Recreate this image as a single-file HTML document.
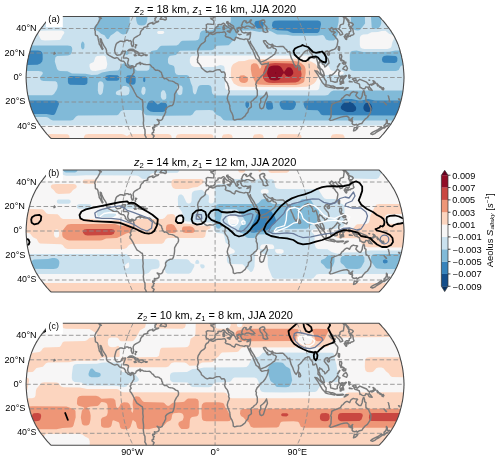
<!DOCTYPE html><html><head><meta charset="utf-8"><style>html,body{margin:0;padding:0;background:#fff;}svg{display:block;}text{font-family:"Liberation Sans", sans-serif;}</style></head><body>
<svg width="500" height="460" viewBox="0 0 500 460">
<defs><clipPath id="cp0"><path d="M51.1,16.5 L215.1,16.5 L379,16.5 L379,16.5 L380.2,17.7 L381.3,18.8 L382.3,20 L383.4,21.2 L384.4,22.4 L385.4,23.6 L386.4,24.9 L387.3,26.1 L388.3,27.3 L389.2,28.5 L390.1,29.7 L390.9,30.9 L391.7,32.2 L392.4,33.4 L393.2,34.6 L393.9,35.8 L394.6,37.1 L395.2,38.3 L395.8,39.5 L396.4,40.7 L397,42 L397.5,43.2 L398,44.4 L398.5,45.6 L398.9,46.9 L399.3,48.1 L399.7,49.3 L400,50.5 L400.3,51.8 L400.6,53 L401,54.2 L401.3,55.4 L401.6,56.7 L401.8,57.9 L402.1,59.1 L402.4,60.3 L402.6,61.6 L402.8,62.8 L403,64 L403.1,65.2 L403.3,66.5 L403.4,67.7 L403.5,68.9 L403.6,70.1 L403.7,71.4 L403.8,72.6 L403.9,73.8 L403.9,75 L404,76.3 L404,77.5 L404,78.7 L403.9,80 L403.9,81.2 L403.8,82.4 L403.7,83.6 L403.6,84.9 L403.5,86.1 L403.4,87.3 L403.3,88.5 L403.1,89.8 L403,91 L402.8,92.2 L402.6,93.4 L402.4,94.7 L402.1,95.9 L401.8,97.1 L401.6,98.3 L401.3,99.6 L401,100.8 L400.6,102 L400.3,103.2 L400,104.5 L399.7,105.7 L399.3,106.9 L398.9,108.1 L398.5,109.4 L398,110.6 L397.5,111.8 L397,113 L396.4,114.3 L395.8,115.5 L395.2,116.7 L394.6,117.9 L393.9,119.2 L393.2,120.4 L392.4,121.6 L391.7,122.8 L390.9,124.1 L390.1,125.3 L389.2,126.5 L388.3,127.7 L387.3,128.9 L386.4,130.1 L385.4,131.4 L384.4,132.6 L383.4,133.8 L382.3,135 L381.3,136.2 L380.2,137.3 L379,138.5 L379,138.5 L215.1,138.5 L51.1,138.5 L51.1,138.5 L49.9,137.3 L48.8,136.2 L47.8,135 L46.7,133.8 L45.7,132.6 L44.7,131.4 L43.7,130.1 L42.8,128.9 L41.8,127.7 L40.9,126.5 L40,125.3 L39.2,124.1 L38.4,122.8 L37.7,121.6 L36.9,120.4 L36.2,119.2 L35.5,117.9 L34.9,116.7 L34.3,115.5 L33.7,114.3 L33.1,113 L32.6,111.8 L32.1,110.6 L31.6,109.4 L31.2,108.1 L30.8,106.9 L30.4,105.7 L30.1,104.5 L29.8,103.2 L29.5,102 L29.1,100.8 L28.8,99.6 L28.5,98.3 L28.3,97.1 L28,95.9 L27.7,94.7 L27.5,93.4 L27.3,92.2 L27.1,91 L27,89.8 L26.8,88.5 L26.7,87.3 L26.6,86.1 L26.5,84.9 L26.4,83.6 L26.3,82.4 L26.2,81.2 L26.2,80 L26.1,78.7 L26.1,77.5 L26.1,76.3 L26.2,75 L26.2,73.8 L26.3,72.6 L26.4,71.4 L26.5,70.1 L26.6,68.9 L26.7,67.7 L26.8,66.5 L27,65.2 L27.1,64 L27.3,62.8 L27.5,61.6 L27.7,60.3 L28,59.1 L28.3,57.9 L28.5,56.7 L28.8,55.4 L29.1,54.2 L29.5,53 L29.8,51.8 L30.1,50.5 L30.4,49.3 L30.8,48.1 L31.2,46.9 L31.6,45.6 L32.1,44.4 L32.6,43.2 L33.1,42 L33.7,40.7 L34.3,39.5 L34.9,38.3 L35.5,37.1 L36.2,35.8 L36.9,34.6 L37.7,33.4 L38.4,32.2 L39.2,30.9 L40,29.7 L40.9,28.5 L41.8,27.3 L42.8,26.1 L43.7,24.9 L44.7,23.6 L45.7,22.4 L46.7,21.2 L47.8,20 L48.8,18.8 L49.9,17.7 L51.1,16.5Z"/></clipPath><clipPath id="cp1"><path d="M51.1,170 L215.1,170 L379,170 L379,170 L380.2,171.2 L381.3,172.3 L382.3,173.5 L383.4,174.7 L384.4,175.9 L385.4,177.1 L386.4,178.4 L387.3,179.6 L388.3,180.8 L389.2,182 L390.1,183.2 L390.9,184.4 L391.7,185.7 L392.4,186.9 L393.2,188.1 L393.9,189.3 L394.6,190.6 L395.2,191.8 L395.8,193 L396.4,194.2 L397,195.5 L397.5,196.7 L398,197.9 L398.5,199.1 L398.9,200.4 L399.3,201.6 L399.7,202.8 L400,204 L400.3,205.3 L400.6,206.5 L401,207.7 L401.3,208.9 L401.6,210.2 L401.8,211.4 L402.1,212.6 L402.4,213.8 L402.6,215.1 L402.8,216.3 L403,217.5 L403.1,218.7 L403.3,220 L403.4,221.2 L403.5,222.4 L403.6,223.6 L403.7,224.9 L403.8,226.1 L403.9,227.3 L403.9,228.5 L404,229.8 L404,231 L404,232.2 L403.9,233.5 L403.9,234.7 L403.8,235.9 L403.7,237.1 L403.6,238.4 L403.5,239.6 L403.4,240.8 L403.3,242 L403.1,243.3 L403,244.5 L402.8,245.7 L402.6,246.9 L402.4,248.2 L402.1,249.4 L401.8,250.6 L401.6,251.8 L401.3,253.1 L401,254.3 L400.6,255.5 L400.3,256.7 L400,258 L399.7,259.2 L399.3,260.4 L398.9,261.6 L398.5,262.9 L398,264.1 L397.5,265.3 L397,266.5 L396.4,267.8 L395.8,269 L395.2,270.2 L394.6,271.4 L393.9,272.7 L393.2,273.9 L392.4,275.1 L391.7,276.3 L390.9,277.6 L390.1,278.8 L389.2,280 L388.3,281.2 L387.3,282.4 L386.4,283.6 L385.4,284.9 L384.4,286.1 L383.4,287.3 L382.3,288.5 L381.3,289.7 L380.2,290.8 L379,292 L379,292 L215.1,292 L51.1,292 L51.1,292 L49.9,290.8 L48.8,289.7 L47.8,288.5 L46.7,287.3 L45.7,286.1 L44.7,284.9 L43.7,283.6 L42.8,282.4 L41.8,281.2 L40.9,280 L40,278.8 L39.2,277.6 L38.4,276.3 L37.7,275.1 L36.9,273.9 L36.2,272.7 L35.5,271.4 L34.9,270.2 L34.3,269 L33.7,267.8 L33.1,266.5 L32.6,265.3 L32.1,264.1 L31.6,262.9 L31.2,261.6 L30.8,260.4 L30.4,259.2 L30.1,258 L29.8,256.7 L29.5,255.5 L29.1,254.3 L28.8,253.1 L28.5,251.8 L28.3,250.6 L28,249.4 L27.7,248.2 L27.5,246.9 L27.3,245.7 L27.1,244.5 L27,243.3 L26.8,242 L26.7,240.8 L26.6,239.6 L26.5,238.4 L26.4,237.1 L26.3,235.9 L26.2,234.7 L26.2,233.5 L26.1,232.2 L26.1,231 L26.1,229.8 L26.2,228.5 L26.2,227.3 L26.3,226.1 L26.4,224.9 L26.5,223.6 L26.6,222.4 L26.7,221.2 L26.8,220 L27,218.7 L27.1,217.5 L27.3,216.3 L27.5,215.1 L27.7,213.8 L28,212.6 L28.3,211.4 L28.5,210.2 L28.8,208.9 L29.1,207.7 L29.5,206.5 L29.8,205.3 L30.1,204 L30.4,202.8 L30.8,201.6 L31.2,200.4 L31.6,199.1 L32.1,197.9 L32.6,196.7 L33.1,195.5 L33.7,194.2 L34.3,193 L34.9,191.8 L35.5,190.6 L36.2,189.3 L36.9,188.1 L37.7,186.9 L38.4,185.7 L39.2,184.4 L40,183.2 L40.9,182 L41.8,180.8 L42.8,179.6 L43.7,178.4 L44.7,177.1 L45.7,175.9 L46.7,174.7 L47.8,173.5 L48.8,172.3 L49.9,171.2 L51.1,170Z"/></clipPath><clipPath id="cp2"><path d="M51.1,323.3 L215.1,323.3 L379,323.3 L379,323.3 L380.2,324.5 L381.3,325.6 L382.3,326.8 L383.4,328 L384.4,329.2 L385.4,330.4 L386.4,331.7 L387.3,332.9 L388.3,334.1 L389.2,335.3 L390.1,336.5 L390.9,337.7 L391.7,339 L392.4,340.2 L393.2,341.4 L393.9,342.6 L394.6,343.9 L395.2,345.1 L395.8,346.3 L396.4,347.5 L397,348.8 L397.5,350 L398,351.2 L398.5,352.4 L398.9,353.7 L399.3,354.9 L399.7,356.1 L400,357.3 L400.3,358.6 L400.6,359.8 L401,361 L401.3,362.2 L401.6,363.5 L401.8,364.7 L402.1,365.9 L402.4,367.1 L402.6,368.4 L402.8,369.6 L403,370.8 L403.1,372 L403.3,373.3 L403.4,374.5 L403.5,375.7 L403.6,376.9 L403.7,378.2 L403.8,379.4 L403.9,380.6 L403.9,381.8 L404,383.1 L404,384.3 L404,385.5 L403.9,386.8 L403.9,388 L403.8,389.2 L403.7,390.4 L403.6,391.7 L403.5,392.9 L403.4,394.1 L403.3,395.3 L403.1,396.6 L403,397.8 L402.8,399 L402.6,400.2 L402.4,401.5 L402.1,402.7 L401.8,403.9 L401.6,405.1 L401.3,406.4 L401,407.6 L400.6,408.8 L400.3,410 L400,411.3 L399.7,412.5 L399.3,413.7 L398.9,414.9 L398.5,416.2 L398,417.4 L397.5,418.6 L397,419.8 L396.4,421.1 L395.8,422.3 L395.2,423.5 L394.6,424.7 L393.9,426 L393.2,427.2 L392.4,428.4 L391.7,429.6 L390.9,430.9 L390.1,432.1 L389.2,433.3 L388.3,434.5 L387.3,435.7 L386.4,436.9 L385.4,438.2 L384.4,439.4 L383.4,440.6 L382.3,441.8 L381.3,443 L380.2,444.1 L379,445.3 L379,445.3 L215.1,445.3 L51.1,445.3 L51.1,445.3 L49.9,444.1 L48.8,443 L47.8,441.8 L46.7,440.6 L45.7,439.4 L44.7,438.2 L43.7,436.9 L42.8,435.7 L41.8,434.5 L40.9,433.3 L40,432.1 L39.2,430.9 L38.4,429.6 L37.7,428.4 L36.9,427.2 L36.2,426 L35.5,424.7 L34.9,423.5 L34.3,422.3 L33.7,421.1 L33.1,419.8 L32.6,418.6 L32.1,417.4 L31.6,416.2 L31.2,414.9 L30.8,413.7 L30.4,412.5 L30.1,411.3 L29.8,410 L29.5,408.8 L29.1,407.6 L28.8,406.4 L28.5,405.1 L28.3,403.9 L28,402.7 L27.7,401.5 L27.5,400.2 L27.3,399 L27.1,397.8 L27,396.6 L26.8,395.3 L26.7,394.1 L26.6,392.9 L26.5,391.7 L26.4,390.4 L26.3,389.2 L26.2,388 L26.2,386.8 L26.1,385.5 L26.1,384.3 L26.1,383.1 L26.2,381.8 L26.2,380.6 L26.3,379.4 L26.4,378.2 L26.5,376.9 L26.6,375.7 L26.7,374.5 L26.8,373.3 L27,372 L27.1,370.8 L27.3,369.6 L27.5,368.4 L27.7,367.1 L28,365.9 L28.3,364.7 L28.5,363.5 L28.8,362.2 L29.1,361 L29.5,359.8 L29.8,358.6 L30.1,357.3 L30.4,356.1 L30.8,354.9 L31.2,353.7 L31.6,352.4 L32.1,351.2 L32.6,350 L33.1,348.8 L33.7,347.5 L34.3,346.3 L34.9,345.1 L35.5,343.9 L36.2,342.6 L36.9,341.4 L37.7,340.2 L38.4,339 L39.2,337.7 L40,336.5 L40.9,335.3 L41.8,334.1 L42.8,332.9 L43.7,331.7 L44.7,330.4 L45.7,329.2 L46.7,328 L47.8,326.8 L48.8,325.6 L49.9,324.5 L51.1,323.3Z"/></clipPath></defs>
<rect width="500" height="460" fill="#fff"/>
<g clip-path="url(#cp0)"><path d="M51.1,16.5 L215.1,16.5 L379,16.5 L379,16.5 L380.2,17.7 L381.3,18.8 L382.3,20 L383.4,21.2 L384.4,22.4 L385.4,23.6 L386.4,24.9 L387.3,26.1 L388.3,27.3 L389.2,28.5 L390.1,29.7 L390.9,30.9 L391.7,32.2 L392.4,33.4 L393.2,34.6 L393.9,35.8 L394.6,37.1 L395.2,38.3 L395.8,39.5 L396.4,40.7 L397,42 L397.5,43.2 L398,44.4 L398.5,45.6 L398.9,46.9 L399.3,48.1 L399.7,49.3 L400,50.5 L400.3,51.8 L400.6,53 L401,54.2 L401.3,55.4 L401.6,56.7 L401.8,57.9 L402.1,59.1 L402.4,60.3 L402.6,61.6 L402.8,62.8 L403,64 L403.1,65.2 L403.3,66.5 L403.4,67.7 L403.5,68.9 L403.6,70.1 L403.7,71.4 L403.8,72.6 L403.9,73.8 L403.9,75 L404,76.3 L404,77.5 L404,78.7 L403.9,80 L403.9,81.2 L403.8,82.4 L403.7,83.6 L403.6,84.9 L403.5,86.1 L403.4,87.3 L403.3,88.5 L403.1,89.8 L403,91 L402.8,92.2 L402.6,93.4 L402.4,94.7 L402.1,95.9 L401.8,97.1 L401.6,98.3 L401.3,99.6 L401,100.8 L400.6,102 L400.3,103.2 L400,104.5 L399.7,105.7 L399.3,106.9 L398.9,108.1 L398.5,109.4 L398,110.6 L397.5,111.8 L397,113 L396.4,114.3 L395.8,115.5 L395.2,116.7 L394.6,117.9 L393.9,119.2 L393.2,120.4 L392.4,121.6 L391.7,122.8 L390.9,124.1 L390.1,125.3 L389.2,126.5 L388.3,127.7 L387.3,128.9 L386.4,130.1 L385.4,131.4 L384.4,132.6 L383.4,133.8 L382.3,135 L381.3,136.2 L380.2,137.3 L379,138.5 L379,138.5 L215.1,138.5 L51.1,138.5 L51.1,138.5 L49.9,137.3 L48.8,136.2 L47.8,135 L46.7,133.8 L45.7,132.6 L44.7,131.4 L43.7,130.1 L42.8,128.9 L41.8,127.7 L40.9,126.5 L40,125.3 L39.2,124.1 L38.4,122.8 L37.7,121.6 L36.9,120.4 L36.2,119.2 L35.5,117.9 L34.9,116.7 L34.3,115.5 L33.7,114.3 L33.1,113 L32.6,111.8 L32.1,110.6 L31.6,109.4 L31.2,108.1 L30.8,106.9 L30.4,105.7 L30.1,104.5 L29.8,103.2 L29.5,102 L29.1,100.8 L28.8,99.6 L28.5,98.3 L28.3,97.1 L28,95.9 L27.7,94.7 L27.5,93.4 L27.3,92.2 L27.1,91 L27,89.8 L26.8,88.5 L26.7,87.3 L26.6,86.1 L26.5,84.9 L26.4,83.6 L26.3,82.4 L26.2,81.2 L26.2,80 L26.1,78.7 L26.1,77.5 L26.1,76.3 L26.2,75 L26.2,73.8 L26.3,72.6 L26.4,71.4 L26.5,70.1 L26.6,68.9 L26.7,67.7 L26.8,66.5 L27,65.2 L27.1,64 L27.3,62.8 L27.5,61.6 L27.7,60.3 L28,59.1 L28.3,57.9 L28.5,56.7 L28.8,55.4 L29.1,54.2 L29.5,53 L29.8,51.8 L30.1,50.5 L30.4,49.3 L30.8,48.1 L31.2,46.9 L31.6,45.6 L32.1,44.4 L32.6,43.2 L33.1,42 L33.7,40.7 L34.3,39.5 L34.9,38.3 L35.5,37.1 L36.2,35.8 L36.9,34.6 L37.7,33.4 L38.4,32.2 L39.2,30.9 L40,29.7 L40.9,28.5 L41.8,27.3 L42.8,26.1 L43.7,24.9 L44.7,23.6 L45.7,22.4 L46.7,21.2 L47.8,20 L48.8,18.8 L49.9,17.7 L51.1,16.5Z" fill="#f7f6f6"/><path d="M20.0 14.0l390 0l0 111.6l-390 -.1zM47.0 30.5l-7 .2l-2 1.3l.2 2l2.1 4.5l1.2 1.4l3.5 .5l14.5 -.3l1.4 -1.1l1.4 -3l2.1 -3l-.4 -1.6l-2 -.8zM97.0 55.9l-1.5 1.2l-1.8 4.9l-3.3 1.5l-.9 .9l0 2.1l.9 3l1.6 1.2l3.5 .2l10 -1.9l1.1 -1.5l.7 -3.5l-1.4 -7l-.9 -.9l-1.5 -.5zM158.5 30.9l-1 .6l-.4 1l.5 1l.9 .5l4 .1l1.8 -1.1l-.3 -1.5l-1 -.6zM222.0 55.5l-29.5 .3l-1.5 .7l-.7 1l-.5 2l.1 3l1.6 3l1.5 1l2 .4l19 .1l6.5 -1.9l3 .7l.9 1.2l.3 2l.3 18.5l1 2l2 .8l88.5 0l1.5 -.4l1.2 -1.4l1 -6l2 -5.5l1.3 -1.5l2.5 -.5l15.5 -.2l1.5 -.5l.8 -1.3l-.4 -1l-1.4 -.7l-8.5 -.3l-2 -.4l-1.2 -1.1l-1.8 -3.7l-1.5 -.6l-5.5 -.7l-1 -1l-2 -3.7l-4 -1.3l-3 -2.2l-2 -.7zM381.5 30.9l-3.5 1l-6.5 .3l-4 2l-4.5 .4l-2 .8l-1 1.6l-.2 2l0 6l.7 2.5l1.5 1.1l2.5 .3l23 0l3 -.9l1 -1.5l.9 -4.5l1.8 -3.5l-.2 -2.5l-1 -1l-4 -1.2l-3.5 -3z" fill="#cae1ee" fill-rule="evenodd"/><path d="M98.8 14.0l31 0l-.2 13l-.5 2.5l-1.4 3l-1.7 1.6l-3 .3l-2 -.6l-3 -2.6l-1.5 0l-3 2.6l-2.8 1.7l-2.2 3.6l-1.5 0l-2.5 -3.8l-3.5 -1.5l-3 -2.8l-3 -1l-1.3 -1.5l.6 -2l3.2 -1.9l.9 -1.6zM135.8 14.0l11.9 0l-.5 6.5l-.7 2.5l-1 1.6l-1.5 .7l-2.5 .2l-2 -.2l-1.6 -.8l-.9 -1.5l-.7 -2.5zM230.8 14.0l108 0l-.2 8l-1.3 6l.7 5.5l-2.5 6l-2 .9l-4.5 .1l-3 -1l-2 -3.7l-1.5 -.9l-6 .9l-24 0l-6 -1.1l-9.5 -.2l-5.5 -3l-3 -.9l-9 1.5l-7.5 -1.5l-11.5 0l-2 .5l-1 1l-1 5.4l-1 2l-3.5 1.9l-2 2.7l-1.5 1.1l-11.5 .6l-1.5 1.1l-2 2.7l-2 .7l-31.5 .5l-1.1 .7l-2.9 3.4l-5.5 .8l-1.5 .8l-1.1 2.5l.2 4l1.3 1.5l3.6 1l1 .8l.6 1.7l.4 4.6l1.4 1.9l2.1 .5l8 .1l1.5 .4l1 .8l1.9 6.7l1.5 3.5l.6 5.7l1 1.9l1 .3l1.1 -.9l1.8 -6l.8 -1.5l1.3 -.7l2.5 -.3l6 .1l2 .7l1 1.7l.4 4.5l.7 2l1.4 1.1l2.5 .4l108.5 -.1l3 -.5l3 -3.5l2.5 -.8l76.5 -.1l0 30l-184 -.1l-2.5 -.5l-3 -3.5l-4.5 -1.8l-3 -4.1l-3.5 -.5l-13.5 .3l-1.5 1.1l-2 3.1l-2 .9l-30 .3l-14 -.4l-1.6 -.8l-2.4 -3.6l-2 -.8l-17 0l-2.5 .8l-2.5 3.6l-1.5 .8l-39 .3l-2 .8l-3 3.5l-2.5 .5l-17.5 0l-2 -.6l-3 -2.2l-2 -.5l-26 0l0 -21.7l32 -.2l2 -1.1l2.6 -4.1l.8 -2l.3 -2.5l-.6 -3l-1.6 -1.2l-12 -.3l-2.5 -.8l-.8 -1.2l0 -2l2.4 -3l.2 -1l-.4 -1l-.9 -.6l-3 -.4l-18.5 0l0 -25.6l47.5 .1l3.3 .5l1.2 1.4l.3 2.1l-.6 3l-1.2 2.1l-2.5 .8l-11 .5l-1.7 1.6l-.5 4l2.2 7.2l1 1.5l2 .7l7.5 .3l4.5 2.3l13.5 .3l6 1.2l6 -.2l4.5 -2.3l7.5 -1.4l8.5 -.6l1.2 -1l2.6 -5l1.2 -.9l1.5 -.4l8.6 2.3l1 1l1.4 3.2l1.5 1l10 .1l1.7 -.8l.8 -1.5l.3 -14l.5 -2l1.2 -1.4l5.5 -1.2l2.9 -3.4l1.6 -.8l15 -.3l2 -.8l2.4 -3.1l1.6 -.8l13 -.2l2.3 -.5l1.4 -1.5l.9 -5.5l1.6 -2l1.8 -.4l8.5 -.3l1.5 -.7l2 -2.7l1.5 -1.1l10 -.4l2.5 -.9l1.2 -3zM179.0 85.3l-1.2 .7l-.7 1l-.3 4.5l1.2 3l2 .7l1.5 -.7l.7 -1l.5 -5l-.3 -1.5l-.9 -1.2zM100.0 81.3l-1.2 .7l-.8 1.5l-.2 7l.7 3.3l1 .9l1 .2l1.4 -.9l.8 -1.5l1 -7l-.3 -2l-.9 -1.5l-1 -.6zM123.0 85.9l-2.5 3.7l-3.5 1.4l-1 .9l-.2 1.6l.7 1.2l2 .6l7 .2l2 -.4l1.4 -1.1l.8 -3.5l-.6 -3l-3.1 -1.6zM143.0 86.8l-1.1 1.2l-.7 4l.8 2.3l1.5 .6l1.6 -1.4l.6 -4l-.7 -2.2l-1 -.5zM162.5 90.2l-1.6 2.3l-.1 4.5l1.2 2.2l1 .6l1.5 0l1.3 -.8l.5 -1l0 -3.5l-1.4 -3.5l-.9 -.8zM350.8 14.0l14 0l.3 9.5l-5.1 6.4l-2 .5l-2.5 -.1l-1.5 -.7l-.9 -1.1l-2.1 -5.5zM370.8 14.0l10 0l.5 9.5l-1.2 3l-2.1 1.9l-4 .4l-1.5 -.5l-.8 -.8zM81.9 42.0l.6 -.4l1 .3l1 2.1l-.1 3.5l-.4 1l-1 .9l-1.1 -.4l-.9 -2l0 -3zM395.3 50.5l14.7 0l0 14.5l-6.5 0l-2 .5l-1.1 1l-1.7 3.5l-2.7 1l-42 0l-2.5 -.5l-1.4 -1.5l-.3 -3l0 -11.5l.7 -2.4l1.5 -1.2l4.5 -.3l6.5 1.5l15 0l11.5 -.3zM126.3 51.0l1.7 .4l.7 1.1l-.2 1.6l-1.5 .9l-1.5 -.4l-.7 -1.1l.2 -1.6z" fill="#81bad8" fill-rule="evenodd"/><path d="M279.0 20.5l39 .1l2.4 .9l.7 2.5l-1.6 7l-.6 1l-1.4 .9l-24.5 .2l-2 -.5l-3.5 -1.9l-10 -.5l-2.5 -.8l-2 -1.2l-1.1 -2.7l.7 -3.5l1.9 -1.3zM255.8 21.0l4.2 -.4l2.5 .9l.9 1.5l.2 2l-.1 1.5l-1 1.5l-1.5 .7l-2 .1l-1.5 -.4l-1.3 -.9l-1.3 -2l-.5 -2l.4 -1.5zM20.0 51.0l0 -.4l.5 0l17.5 0l2.7 .4l1.3 1.2l.6 1.8l.1 5l-.5 2.5l-1.8 2l-2.9 1.3l-17.5 .2zM383.9 56.0l3.1 -.4l8.5 .3l1 .6l.9 1.5l-.1 3l-.8 1.2l-2 .7l-10.5 -.2l-1.6 -1.2l-.5 -2l.6 -2.3zM106.6 75.5l2.9 -.4l8 .2l1.6 1.2l.2 2.5l-.8 1.2l-1.5 .6l-9.5 0l-1.5 -.8l-.8 -1.5l.2 -2zM127.4 75.5l5.1 -.4l1.5 .4l1 .8l.6 1.7l.1 3l-.3 2l-.9 1.2l-1.5 .6l-1.5 -.2l-3.7 -1.1l-1.4 -1l-.5 -1.5l0 -3l.5 -1.5zM68.8 76.5l1.7 -.4l15 .4l1.5 .9l.5 1.1l-.1 4.5l-.9 1.2l-2 .7l-14.5 -.2l-1.5 -1l-.6 -1.7l0 -4zM143.9 77.0l1.1 .4l.3 1.1l0 2.5l-.8 1.2l-1 -.4l-.4 -1.3l.2 -2.5zM345.1 99.0l6.4 0l7 1.5l3 -.1l6.5 -1.4l7 1.5l35 0l0 14.9l-87 -.1l-2 -.8l-2 -3.1l-1.5 -1.1l-9 -.3l-2 -.5l-1.8 -2l-1.2 -3.5l.5 -2.3l2 -1l32.5 -.2zM20.0 101.0l0 -.4l36 0l2.4 .9l.6 2.5l-3.5 9l-1 1.5l-1 .6l-1.5 0l-5.5 -1.2l-26.5 0zM149.6 101.0l2.4 -.4l1.9 .4l3.6 3.5l1 -.2l2.5 -1.8l4.7 .5l1 1l.5 1.5l.1 2l-.5 2l-1.3 1.6l-2.5 1l-9.5 0l-3.1 -.6l-2.9 -2l-1 -2l1.4 -4.5zM267.8 101.0l2.9 0l1.8 2l.7 4.5l-.7 1.5l-1 .6l-3.5 .1l-1.8 -1.7l-.2 -4.5l.6 -1.5zM280.9 101.0l3.1 -.4l10 .2l1.7 1.2l.3 2.5l-1.5 3.5l-1.5 1.5l-2.5 .5l-7 -.2l-2.2 -1.3l-1.6 -3.5l-.1 -2.5zM246.3 101.5l1.7 -.1l1.1 1.6l-.1 3l-1.5 2.2l-1.3 -.7l-.8 -2l0 -2.5z" fill="#3783bb" fill-rule="evenodd"/><path d="M344.6 102.5l5.4 -.4l3 1.1l3 3.8l.2 2l-.7 1.8l-2.5 1.2l-5.5 .1l-2.1 -.6l-3.7 -2l-1 -1.5l.2 -1.5l1.7 -2.5zM366.8 102.5l1.7 -.1l1.2 .6l1.4 1.5l.9 1.9l.3 2.1l-.3 1.5l-.6 1l-1.4 .8l-2 .3l-2 -.4l-1.5 -1l-1 -1.7l-.1 -2l.7 -2l1.1 -1.5z" fill="#144e8a" fill-rule="evenodd"/><path d="M261.5 59.0l36.5 -.2l3 .5l4 1.5l6 .6l4.5 2.6l2.5 3.2l.7 3.8l-.5 5.5l-2.1 4.5l-2.1 2.6l-4.5 2.4l-3 .7l-12 .5l-53 -.4l-3.5 -.8l-4.2 -2.5l-2.4 -4.5l-.6 -4l.3 -7l.9 -2.3l1.3 -1.7l5.2 -2.7l6 -.4l4.5 -1.5zM47.4 134.5l3.6 -.5l16.5 .3l1.2 .7l.7 1l.3 5l-23.9 0l.2 -4.5zM85.4 134.5l3.1 -.5l33 0l2.5 .4l3 1.6l2.3 -1.5l2.2 -.5l36.5 0l2 .5l1.2 1l.5 2l.1 3.5l-88 0l.2 -4.5zM177.4 134.5l3.6 -.5l30 .2l1.5 .6l.9 1.2l.3 5l-38 0l.2 -4.5zM223.4 134.5l5.1 -.5l3 .8l1 1.7l.2 4.5l-10.9 0l.2 -4.5zM254.4 134.5l5.1 -.5l3 .8l1 1.7l.2 4.5l-10.9 0l.2 -4.5zM278.4 134.5l3.6 -.5l17.5 .3l1.2 .7l.7 1l.3 5l-24.9 0l.2 -4.5zM332.4 134.5l4.1 -.5l6.5 .5l1.5 2l.2 4.5l-13.9 0l.2 -4.5z" fill="#fcd5bf" fill-rule="evenodd"/><path d="M272.4 61.0l21.6 .1l4 .5l3 1.4l3.5 3l1.1 3l.1 4l-1.5 8.5l-1.2 1.2l-3.5 1.6l-3.5 .7l-27.5 0l-10 -.5l-2 -.6l-.9 -.9l-3.7 -7.5l-1.1 -6l.1 -3.5l.5 -1.5l2.1 -1.3l3 .4l1.5 1.4l1.5 3.5l.5 .3l1 -1.2l.9 -4.1l1.1 -1.4l2 -.6zM240.5 75.5l3.5 -.2l3 1.7l1.3 2l-.8 2.6l-1.3 .9l-1.7 .4l-2.5 -.2l-1.6 -.7l-1.1 -1.5l-.4 -2l.5 -2z" fill="#ee9677" fill-rule="evenodd"/><path d="M270.1 63.5l4.9 -.5l16 .4l4.2 1.1l3.8 2.5l1.7 2.5l.9 4.5l-.7 5l-2.4 2.5l-3 1l-22.5 .5l-4 -.3l-2.5 -.7l-2 -1.5l-1.2 -2l-.5 -2.5l.2 -3l2.3 -6.5l1.7 -1.6z" fill="#c94741" fill-rule="evenodd"/><path d="M273.8 65.5l4.2 .1l2 .6l1.4 1.3l2.6 4.4l3 -4.1l1.5 -.5l2 .3l1.2 .9l1.2 2l.4 2l-.2 1.5l-2.1 2.3l-2.5 .5l-2.2 -.8l-2.3 -2.8l-1 .8l-3 5l-1.3 1l-3.7 .5l-4.2 -.5l-1.3 -1l-1.7 -3l-.7 -2.5l.2 -2l.9 -3l1 -1.5l1.8 -1.1z" fill="#900d26" fill-rule="evenodd"/><path d="M275.3 72.5l.9 0l-.2 1.1l-.7 -.1z" fill="#67001f" fill-rule="evenodd"/><path d="M40.9,126.5 L389.2,126.5 M29.5,102 L400.6,102 M26.1,77.5 L404,77.5 M29.5,53 L400.6,53 M40.9,28.5 L389.2,28.5 M133.1,16.5 L131.7,19.4 L130.4,22.4 L129.1,25.5 L128,28.5 L126.9,31.5 L126,34.6 L125.1,37.7 L124.4,40.7 L123.7,43.8 L123.1,46.9 L122.7,49.9 L122.3,53 L121.9,56.1 L121.5,59.1 L121.2,62.2 L121,65.2 L120.8,68.3 L120.7,71.4 L120.6,74.4 L120.6,77.5 L120.6,80.6 L120.7,83.6 L120.8,86.7 L121,89.8 L121.2,92.8 L121.5,95.9 L121.9,98.9 L122.3,102 L122.7,105.1 L123.1,108.1 L123.7,111.2 L124.4,114.3 L125.1,117.3 L126,120.4 L126.9,123.5 L128,126.5 L129.1,129.5 L130.4,132.6 L131.7,135.6 L133.1,138.5 M215.1,16.5 L215.1,19.4 L215.1,22.4 L215.1,25.5 L215.1,28.5 L215.1,31.5 L215.1,34.6 L215.1,37.7 L215.1,40.7 L215.1,43.8 L215.1,46.9 L215.1,49.9 L215.1,53 L215.1,56.1 L215.1,59.1 L215.1,62.2 L215.1,65.2 L215.1,68.3 L215.1,71.4 L215.1,74.4 L215.1,77.5 L215.1,80.6 L215.1,83.6 L215.1,86.7 L215.1,89.8 L215.1,92.8 L215.1,95.9 L215.1,98.9 L215.1,102 L215.1,105.1 L215.1,108.1 L215.1,111.2 L215.1,114.3 L215.1,117.3 L215.1,120.4 L215.1,123.5 L215.1,126.5 L215.1,129.5 L215.1,132.6 L215.1,135.6 L215.1,138.5 M297,16.5 L298.4,19.4 L299.7,22.4 L301,25.5 L302.1,28.5 L303.2,31.5 L304.1,34.6 L305,37.7 L305.7,40.7 L306.4,43.8 L307,46.9 L307.4,49.9 L307.8,53 L308.2,56.1 L308.6,59.1 L308.9,62.2 L309.1,65.2 L309.3,68.3 L309.4,71.4 L309.5,74.4 L309.5,77.5 L309.5,80.6 L309.4,83.6 L309.3,86.7 L309.1,89.8 L308.9,92.8 L308.6,95.9 L308.2,98.9 L307.8,102 L307.4,105.1 L307,108.1 L306.4,111.2 L305.7,114.3 L305,117.3 L304.1,120.4 L303.2,123.5 L302.1,126.5 L301,129.5 L299.7,132.6 L298.4,135.6 L297,138.5" fill="none" stroke="#8c8c8c" stroke-opacity="0.85" stroke-width="1" stroke-dasharray="4.6,2.4"/><path d="M373.0,80.7 L374.5,81.5 L375.7,83.1 L375.2,83.4 L373.9,81.9 L373.0,80.7 M377.1,83.6 L378.4,85.1 L377.9,86.0 L377.0,84.7 L377.1,83.6 M379.0,85.7 L379.9,86.4 L382.2,87.9 L381.9,88.3 L379.6,87.1 L379.0,85.7 M382.1,88.8 L383.3,89.4 L383.2,89.9 L382.0,89.3 L382.1,88.8 M383.3,87.8 L383.9,88.9 L383.6,89.1 L383.0,88.3 L383.3,87.8 M388.2,95.9 L388.7,96.6 L388.7,97.8 L389.3,99.2 L389.2,100.5 L389.6,101.4 M368.9,80.0 L369.7,80.1 L369.3,80.3 L368.9,80.0 M97.4,14.1 L98.8,15.9 L99.9,17.7 L100.2,18.4 L99.6,20.2 L97.7,23.6 L96.1,25.8 L95.1,28.0 L94.7,29.7 L95.3,31.2 L95.2,32.6 L95.5,35.1 L97.3,35.8 L98.0,37.4 L98.2,38.9 L98.5,40.4 L99.1,42.6 L99.2,44.0 L100.4,45.6 L101.2,47.5 L102.3,49.4 L103.0,48.7 L102.2,47.7 L101.7,45.6 L101.1,43.4 L100.6,41.6 L100.1,38.7 L101.2,39.1 L101.8,41.3 L102.7,43.4 L103.7,45.4 L104.7,46.9 L105.9,48.7 L106.6,50.8 L106.4,52.4 L107.3,54.1 L109.0,55.4 L110.9,56.4 L112.9,57.5 L114.9,58.3 L116.8,57.6 L118.0,58.1 L119.2,59.7 L120.3,60.5 L121.9,61.0 L123.6,61.3 L124.1,61.7 L124.8,62.7 L125.6,63.9 L125.4,65.0 L125.9,65.4 L126.5,65.6 L127.6,67.1 L128.6,67.5 L129.8,67.9 L130.9,68.6 L131.1,67.8 L131.8,66.7 L133.0,67.3 L133.4,68.3 L133.9,69.3 L133.9,70.8 L134.0,72.6 L132.7,74.4 L132.1,75.7 L131.1,76.5 L131.0,78.4 L130.1,79.3 L130.8,80.7 L131.2,81.5 L129.9,83.0 L130.1,84.7 L131.5,86.3 L133.0,88.9 L134.5,92.0 L135.6,94.0 L136.9,96.3 L139.4,98.0 L141.2,99.3 L142.4,100.0 L142.9,103.6 L142.8,106.4 L143.2,109.9 L142.9,112.8 L143.2,115.5 L143.5,117.9 L143.6,120.8 L143.3,123.1 L143.6,125.3 L144.2,128.3 L144.9,129.3 L145.0,131.4 L145.1,133.5 L144.8,135.0 L146.0,137.1 L146.4,139.1 L148.0,141.5 M131.8,65.7 L133.0,66.0 L134.2,67.0 L134.9,66.7 L135.9,65.9 L136.2,64.5 L137.6,63.7 L138.9,63.2 L140.0,62.3 L140.7,63.0 L140.0,63.7 L140.3,64.6 L140.9,63.9 L142.0,63.3 L143.7,64.3 L145.9,64.5 L147.9,64.6 L149.6,64.5 L150.4,65.0 L151.3,66.1 L152.1,67.1 L153.3,67.7 L154.3,69.2 L155.8,70.3 L157.4,70.1 L159.0,70.6 L160.5,71.9 L161.4,72.4 L161.9,74.7 L162.6,75.4 L162.3,76.9 L163.6,77.7 L164.4,78.8 L165.7,78.4 L167.5,79.3 L168.6,80.6 L170.5,80.9 L172.2,81.1 L173.9,81.8 L175.7,83.3 L177.8,83.9 L178.5,85.8 L178.5,87.5 L177.9,89.1 L176.6,90.6 L175.4,92.8 L174.6,94.4 L174.6,97.1 L174.4,99.3 L174.0,101.5 L173.2,104.2 L172.1,105.6 L170.4,105.7 L168.7,106.5 L167.0,107.5 L165.5,109.5 L165.7,112.2 L165.0,113.5 L164.2,115.5 L163.2,116.7 L162.7,118.6 L162.0,119.7 L160.7,120.4 L159.4,120.3 L157.9,119.8 L157.1,119.5 L158.5,121.0 L159.2,122.1 L158.9,123.9 L157.6,124.8 L155.5,125.3 L154.4,125.0 L154.9,126.7 L154.5,127.8 L152.6,127.5 L152.8,128.9 L153.6,129.5 L154.3,129.9 L153.4,130.7 L153.6,132.6 L152.3,132.6 L152.0,134.2 L153.6,135.3 L154.2,136.0 L153.4,137.0 L153.2,138.4 L152.8,139.1 L152.8,140.4 L153.8,141.3 M154.7,15.9 L156.4,16.2 L156.1,17.7 L154.9,18.4 L155.3,19.3 L154.8,20.3 L155.2,21.1 L157.0,21.4 L157.8,22.0 L158.7,21.1 L157.6,21.8 L155.2,22.8 L153.5,24.1 L152.6,23.8 L152.9,22.3 L151.8,22.8 L150.1,23.2 L148.6,24.0 L147.6,25.1 L147.3,26.3 L148.0,26.3 L147.4,26.7 L146.1,26.9 L144.0,27.5 L143.6,28.0 L143.1,29.1 L142.2,29.8 L141.4,30.5 L140.5,32.2 L140.3,34.0 L139.3,35.0 L137.6,36.0 L136.1,36.8 L134.2,38.0 L133.2,40.0 L133.2,41.7 L133.5,42.9 L133.5,44.9 L133.0,46.6 L132.3,46.6 L131.7,45.4 L131.2,43.7 L131.4,41.8 L130.3,40.6 L128.9,41.1 L128.0,40.2 L126.5,40.1 L124.8,40.5 L125.0,41.6 L123.6,41.8 L121.9,41.2 L120.2,41.1 L118.8,42.0 L116.9,43.1 L116.0,44.5 L115.6,45.9 L115.1,47.8 L114.6,50.2 L114.9,52.0 L115.7,54.0 L117.1,55.2 L118.9,55.0 L120.4,54.8 L121.5,53.6 L122.0,51.8 L123.8,51.3 L125.5,51.2 L125.1,52.7 L124.3,54.7 L123.6,56.4 L123.4,58.0 L124.1,58.1 L125.7,58.0 L126.9,58.0 L128.4,58.9 L128.5,60.0 L127.9,61.8 L127.7,63.4 L128.0,64.5 L128.8,65.7 L129.8,66.7 L130.9,66.3 L131.8,65.7 M127.8,50.7 L129.4,49.4 L131.0,49.1 L132.7,49.2 L134.4,50.2 L135.7,51.0 L137.1,51.6 L138.6,52.6 L137.8,53.1 L135.3,53.1 L135.1,52.3 L134.2,51.0 L132.6,50.8 L131.0,50.3 L130.2,50.5 L128.7,50.8 L127.8,50.7 M138.1,55.0 L140.0,53.1 L141.6,53.1 L142.9,53.5 L144.4,54.7 L143.2,55.1 L141.4,55.8 L139.8,55.3 L138.1,55.0 M134.1,55.0 L135.8,54.8 L136.2,55.6 L134.8,55.7 L134.1,55.0 M145.6,54.8 L147.2,55.0 L147.0,55.4 L145.5,55.4 L145.6,54.8 M135.5,44.8 L136.7,44.9 L136.2,45.8 L135.5,44.8 M135.2,46.6 L135.6,47.8 L135.3,47.7 L135.2,46.6 M160.0,19.3 L163.2,19.3 L165.1,20.0 L166.3,19.3 L166.1,17.3 L164.4,16.7 L163.9,14.9 L164.9,14.6 L162.9,15.8 L160.6,18.2 L160.0,19.3 M98.7,15.5 L99.7,16.0 L100.1,17.4 L101.4,18.4 L100.3,18.1 L98.8,16.8 L98.7,15.5 M216.5,15.4 L215.5,16.5 L214.1,17.2 L213.6,16.8 L213.3,18.0 L210.8,18.1 L211.1,19.1 L212.5,19.6 L213.2,20.2 L213.9,21.2 L213.9,22.9 L213.6,24.4 L211.6,24.3 L209.4,24.1 L207.5,24.0 L206.2,24.9 L206.5,26.7 L206.5,28.3 L205.8,30.1 L206.5,30.7 L206.3,32.2 L207.7,31.9 L208.7,32.3 L209.1,33.3 L209.7,33.3 L210.6,32.5 L213.0,32.5 L214.4,31.4 L215.2,30.0 L214.8,29.1 L215.9,27.3 L218.1,26.2 L218.0,24.7 L219.4,24.4 L221.2,24.7 L222.2,23.9 L223.4,23.2 L224.7,23.8 L225.1,25.0 L226.8,26.6 L228.5,27.5 L230.1,28.5 L230.5,30.1 L230.4,31.1 L230.8,30.9 L231.2,29.8 L231.6,29.2 L231.4,28.0 L232.9,28.6 L232.7,27.8 L231.5,27.2 L230.4,26.2 L228.7,25.6 L228.0,24.1 L226.7,23.0 L226.7,22.0 L227.9,21.6 L228.1,22.7 L229.4,23.4 L230.7,24.4 L232.7,25.6 L233.6,26.3 L233.8,28.1 L234.6,29.0 L235.5,30.6 L236.3,32.4 L237.2,32.9 L237.7,32.3 L237.5,31.4 L238.5,31.3 L237.5,30.2 L237.0,29.4 L237.1,28.0 L238.3,28.4 L238.6,27.4 L240.1,27.5 L240.5,28.1 L241.5,27.4 L242.9,27.2 L241.9,26.2 L241.4,25.3 L242.2,24.3 L242.2,23.3 L242.9,22.2 L243.6,21.1 L244.6,20.6 L246.4,21.2 L245.6,22.0 L246.8,23.0 L248.4,22.3 L249.3,22.1 L250.5,19.9 L251.5,20.0 L250.7,20.9 L250.4,22.8 L252.5,24.3 L254.9,26.6 L253.6,27.4 L250.6,27.0 L248.6,26.1 L246.6,26.1 L245.1,27.2 L243.2,27.3 L241.6,28.0 L240.5,28.5 L240.4,29.2 L241.2,30.3 L241.7,31.7 L242.5,32.4 L244.2,33.1 L245.1,32.5 L246.5,32.8 L248.5,33.0 L250.6,32.5 L250.5,34.2 L250.3,35.8 L250.1,37.1 L249.7,38.4 L249.4,39.1 L248.2,39.4 L247.4,39.1 L245.1,39.0 L244.2,39.6 L242.1,39.1 L240.1,38.8 L238.2,38.0 L236.0,37.3 L235.2,38.3 L235.1,39.5 L234.2,40.4 L232.1,39.4 L230.4,38.0 L228.0,37.2 L226.1,36.7 L225.2,35.8 L226.0,34.4 L225.3,32.5 L224.4,31.8 L222.4,32.2 L220.0,32.4 L218.0,32.4 L216.0,32.8 L213.6,34.4 L212.9,34.5 L209.8,33.5 L208.9,34.2 L208.2,35.8 L206.5,36.7 L205.7,37.9 L205.2,39.3 L205.4,40.7 L204.4,42.0 L202.9,43.1 L201.7,43.8 L200.3,45.4 L199.2,47.5 L198.3,48.7 L197.6,51.4 L198.0,53.5 L198.4,55.4 L197.9,57.8 L197.3,59.5 L197.7,60.8 L197.5,62.3 L198.9,63.4 L199.7,64.4 L201.0,66.1 L201.5,67.9 L203.1,69.2 L205.1,71.0 L207.2,72.1 L209.8,71.2 L213.0,71.6 L215.1,70.6 L216.6,69.9 L218.2,69.8 L219.8,69.8 L220.8,71.1 L221.7,72.2 L222.9,72.0 L224.0,71.9 L224.7,72.7 L225.3,74.4 L225.1,76.3 L224.8,77.9 L224.5,78.5 L225.5,80.9 L226.7,82.3 L227.6,83.6 L227.9,85.0 L228.5,86.6 L228.9,88.3 L228.6,89.8 L229.3,91.3 L229.0,92.9 L228.1,94.7 L227.7,96.1 L227.2,98.3 L227.9,100.7 L228.8,103.1 L229.8,105.6 L229.9,107.9 L230.3,110.0 L230.8,111.3 L231.6,112.5 L232.4,114.3 L233.1,116.5 L233.2,117.7 L233.3,119.4 L234.7,120.1 L236.9,119.4 L238.9,119.3 L240.5,119.2 L241.9,118.6 L243.5,117.3 L245.2,115.9 L246.3,113.7 L247.8,112.4 L248.6,109.6 L248.4,109.2 L249.2,108.6 L251.4,106.9 L251.3,105.1 L251.3,103.5 L250.8,102.6 L251.4,101.4 L252.8,100.5 L254.4,98.7 L256.0,97.7 L257.4,95.3 L257.3,92.2 L257.3,90.4 L256.2,87.9 L256.4,85.5 L255.7,84.6 L256.1,83.3 L257.2,80.8 L258.6,79.6 L259.7,78.1 L260.8,76.6 L263.3,74.7 L265.4,72.0 L266.9,68.9 L268.1,65.2 L268.5,63.0 L266.7,63.8 L265.2,63.8 L262.0,64.6 L260.4,63.4 L260.1,62.1 L259.3,61.6 L257.9,59.7 L256.1,58.5 L254.9,55.4 L253.3,51.8 L252.8,49.9 L251.4,48.3 L250.2,45.6 L249.0,43.4 L247.9,40.9 L247.5,39.3 M247.9,40.9 L248.8,42.6 L249.8,43.4 L250.1,42.0 L250.3,41.3 L250.7,43.2 L252.4,45.8 L253.9,48.1 L255.2,50.5 L256.5,52.7 L257.9,55.7 L259.2,57.6 L259.5,59.4 L260.2,61.9 L261.4,61.9 L263.5,61.1 L265.5,60.3 L267.5,59.1 L269.2,58.0 L271.2,56.7 L272.5,55.7 L273.5,54.8 L274.7,54.2 L275.4,52.4 L276.4,49.9 L275.3,48.6 L273.4,48.1 L272.7,47.0 L272.4,45.3 L271.7,46.2 L270.8,47.7 L268.3,48.1 L267.7,47.6 L267.7,46.2 L267.3,45.5 L266.9,46.9 L266.2,45.4 L265.3,44.2 L264.1,42.6 L263.4,40.9 L264.2,40.6 L265.6,40.7 L266.6,42.2 L268.3,43.8 L270.5,44.9 L272.4,44.3 L273.5,45.8 L275.8,46.4 L277.9,46.6 L280.4,46.5 L282.9,46.4 L283.8,47.1 L285.2,48.7 L286.7,49.9 L287.6,52.0 L289.7,51.4 L290.2,54.2 L291.2,57.9 L292.6,60.5 L293.6,63.4 L294.8,65.9 L296.1,67.6 L296.8,66.5 L297.9,64.9 L298.3,63.2 L298.7,61.0 L298.3,58.5 L299.6,57.4 L301.3,55.8 L303.0,53.6 L304.5,51.8 L305.7,50.9 L306.6,50.8 L308.1,49.9 L309.3,50.2 L310.1,52.1 L311.5,53.6 L312.6,55.4 L312.8,57.9 L314.1,58.3 L315.6,56.8 L316.4,57.9 L317.3,61.0 L317.8,62.8 L318.1,65.2 L317.9,67.3 L320.0,69.5 L320.3,71.4 L321.0,73.8 L323.6,75.9 L324.4,75.8 L323.5,72.2 L322.2,69.9 L320.3,68.4 L319.5,66.2 L318.7,64.9 L319.3,62.2 L319.7,61.0 L320.3,61.9 L321.9,62.5 L322.6,64.0 L324.2,64.8 L324.9,67.0 L326.6,65.7 L327.5,64.3 L329.0,63.2 L328.8,61.6 L328.1,58.9 L326.2,56.9 L324.3,54.5 L324.8,52.5 L326.0,51.2 L327.7,51.0 L328.9,52.6 L329.7,51.2 L331.6,50.2 L334.0,49.4 L335.4,48.6 L337.0,46.2 L337.4,44.0 L337.9,40.9 L337.5,39.6 L335.8,37.7 L334.4,35.5 L333.0,34.6 L333.8,33.3 L335.3,32.3 L334.0,31.5 L331.7,31.9 L330.6,30.6 L329.5,29.7 L330.5,28.7 L331.6,27.5 L333.0,28.5 L333.0,30.0 L333.7,29.2 L335.4,28.6 L337.4,30.9 L339.3,32.8 L340.3,35.1 L341.3,34.9 L342.8,34.2 L342.1,32.4 L340.3,30.3 L338.6,28.9 L339.9,27.4 L339.9,25.7 L341.0,24.6 L343.4,23.9 L343.9,20.6 L344.2,18.2 L342.1,15.3 M261.2,20.6 L262.9,20.0 L264.4,20.3 L264.9,22.2 L263.5,23.0 L265.1,25.1 L267.0,27.3 L266.3,28.5 L267.9,31.9 L265.6,32.4 L263.2,31.5 L262.9,28.3 L261.8,26.3 L260.3,24.9 L259.6,21.8 L261.2,20.6 M209.9,16.5 L211.9,16.0 L214.1,15.6 L216.0,15.4 L216.4,14.9 L215.5,14.3 L216.6,13.3 L215.5,12.9 L214.9,11.8 M212.4,12.6 L210.9,13.2 L211.5,14.1 L210.4,14.5 L211.9,14.8 L211.0,15.2 L209.9,16.5 M209.7,14.1 L209.2,13.9 L207.4,14.6 L205.8,14.3 L206.6,12.9 L206.2,11.8 M345.1,35.8 L346.3,36.1 L347.6,35.6 L349.4,36.1 L350.2,36.4 L350.8,35.5 L352.5,35.0 L353.4,34.6 L354.0,33.9 L353.3,32.2 L353.1,30.6 L352.8,29.1 L350.9,26.8 L350.1,27.6 L350.8,29.5 L350.9,31.1 L349.2,32.0 L349.2,34.0 L346.4,34.0 L345.0,35.3 L345.1,35.8 M344.2,36.7 L345.7,39.1 L346.3,39.5 L346.8,39.0 L346.5,37.2 L345.2,36.0 L344.2,36.7 M347.0,36.7 L348.0,37.1 L349.0,36.1 L348.3,35.5 L346.9,36.0 L347.0,36.7 M349.4,26.7 L350.4,26.3 L352.1,26.1 L353.3,24.5 L352.3,23.3 L348.1,21.8 L349.4,24.5 L348.5,24.7 L349.4,26.7 M347.8,21.2 L348.8,20.6 L346.0,17.7 L344.6,15.3 L343.7,15.3 L346.2,18.8 L347.8,21.2 M338.2,49.3 L338.6,46.6 L339.6,47.0 L339.5,49.9 L339.1,50.5 L338.2,49.3 M327.2,54.0 L328.4,52.9 L329.6,53.4 L329.3,54.8 L328.3,55.2 L327.2,54.0 M339.7,54.8 L341.4,54.8 L341.8,56.7 L341.3,58.0 L341.6,60.1 L344.2,61.6 L343.7,60.6 L342.6,60.5 L341.0,60.8 L340.5,59.7 L339.6,57.9 L339.7,54.8 M342.8,68.9 L344.2,66.8 L346.2,65.7 L347.5,68.3 L346.6,70.4 L345.5,70.1 L342.8,68.9 M342.3,63.0 L343.8,64.3 L344.5,63.7 L345.5,64.0 L345.9,62.2 L344.6,62.2 L342.3,63.0 M337.7,67.2 L339.9,63.7 L339.6,63.7 L337.4,67.0 L337.7,67.2 M329.4,75.7 L330.1,75.0 L331.5,75.4 L334.1,73.2 L336.1,71.0 L337.5,68.9 L339.2,70.6 L340.0,71.1 L338.8,72.2 L338.7,75.3 L340.0,76.4 L338.4,77.5 L337.3,79.3 L337.2,81.8 L335.1,82.3 L332.2,81.4 L330.7,81.1 L330.5,79.0 L330.0,76.9 L329.4,75.7 M314.9,70.6 L317.2,71.1 L320.3,74.4 L323.9,77.5 L324.7,79.3 L326.2,81.2 L325.9,84.6 L324.5,84.7 L322.3,82.4 L320.5,79.3 L319.0,76.9 L317.9,74.7 L314.9,70.6 M325.2,85.8 L326.6,84.9 L328.5,85.1 L330.8,86.0 L333.0,86.0 L334.9,86.9 L334.7,88.2 L331.2,87.5 L328.6,87.1 L326.5,86.6 L325.2,85.8 M335.4,87.4 L336.9,87.7 L339.6,87.7 L342.7,87.5 L343.7,87.8 L342.6,88.3 L339.5,88.4 L336.9,88.4 L335.4,87.4 M344.2,90.1 L345.2,88.9 L345.9,88.0 L348.2,87.8 L346.2,89.0 L344.6,90.0 L344.2,90.1 M340.2,84.2 L340.4,81.8 L339.7,80.9 L340.8,77.5 L341.1,76.5 L342.0,75.9 L344.1,76.4 L345.7,75.5 L346.4,75.7 L345.2,77.0 L342.6,76.9 L341.5,78.5 L342.7,78.7 L344.2,78.5 L342.8,79.7 L343.5,81.5 L343.7,83.1 L342.4,83.3 L342.3,81.2 L341.5,81.2 L341.1,84.2 L340.2,84.2 M348.8,75.0 L350.1,75.7 L349.4,76.5 L350.1,77.5 L349.3,78.2 L348.7,76.3 L348.8,75.0 M349.3,81.2 L352.2,81.9 L350.9,81.8 L349.3,81.8 L349.3,81.2 M352.5,79.2 L354.1,78.0 L355.8,78.7 L356.2,80.7 L357.2,81.5 L359.8,79.3 L363.0,80.7 L366.6,82.2 L367.9,83.6 L368.2,84.2 L369.7,84.9 L369.1,86.7 L370.7,88.5 L372.2,90.4 L369.2,89.9 L367.8,87.3 L365.8,86.9 L364.9,88.8 L362.5,88.7 L360.5,87.4 L360.0,87.7 L359.4,84.2 L356.8,82.9 L355.0,82.4 L353.8,80.9 L355.1,80.6 L352.7,79.3 L352.5,79.2 M370.7,84.2 L372.3,84.2 L373.9,82.6 L374.7,82.8 L373.8,84.2 L371.7,85.2 L370.7,84.2 M331.7,104.5 L332.4,104.2 L335.0,102.9 L337.8,101.9 L340.5,100.8 L341.7,98.6 L343.1,97.7 L344.4,96.1 L346.2,94.7 L347.7,94.7 L349.1,95.6 L349.6,95.8 L350.7,93.4 L351.6,92.5 L353.3,91.6 L354.8,92.1 L356.9,92.2 L357.6,92.6 L356.6,93.8 L355.8,95.5 L357.2,97.1 L359.3,98.8 L360.8,98.8 L362.2,95.9 L362.5,93.4 L363.3,91.0 L363.9,90.6 L364.6,92.8 L364.6,94.9 L366.0,95.9 L365.8,97.7 L366.0,100.8 L368.4,102.5 L369.5,105.1 L371.0,108.5 L370.8,110.6 L370.5,112.7 L368.7,115.5 L367.4,117.5 L365.1,119.2 L363.2,121.4 L361.8,123.5 L359.5,123.9 L357.3,125.4 L356.3,124.3 L354.7,125.0 L353.0,124.5 L352.0,123.2 L352.6,121.5 L351.4,121.1 L352.3,120.0 L352.0,119.4 L351.2,120.6 L350.3,120.8 L351.7,119.2 L352.7,117.7 L349.7,120.1 L349.0,120.0 L349.0,117.7 L346.9,116.1 L343.8,116.5 L341.0,117.1 L338.7,117.9 L335.9,118.9 L332.4,120.1 L330.4,120.4 L329.3,119.5 L330.1,118.6 L331.0,116.7 L331.1,113.7 L331.3,110.0 L330.7,109.1 L331.6,106.3 L331.7,104.5 M354.4,127.4 L356.0,127.8 L357.9,127.6 L356.8,129.2 L355.1,130.5 L353.5,130.9 L353.9,129.2 L354.4,127.4 M386.4,119.7 L387.3,120.8 L387.3,123.5 L389.7,123.7 L387.8,125.5 L386.6,125.9 L384.2,128.1 L382.8,128.1 L384.3,126.9 L384.0,125.6 L385.6,124.1 L386.5,122.2 L386.4,119.7 M381.6,127.1 L382.1,128.6 L379.2,130.7 L376.7,132.0 L374.7,133.6 L372.5,134.5 L370.7,133.8 L371.9,132.7 L374.3,131.4 L378.0,129.7 L380.7,127.7 L381.6,127.1 M266.5,92.2 L267.5,96.5 L266.7,98.3 L265.0,102.6 L264.2,105.3 L263.3,107.9 L261.5,108.8 L260.0,107.8 L259.5,104.5 L260.8,102.0 L260.6,98.9 L263.1,96.9 L264.8,95.3 L266.5,92.2 M298.7,69.5 L298.8,67.5 L298.9,65.5 L300.2,67.1 L300.7,68.9 L300.2,69.9 L299.1,70.1 L298.7,69.5 M227.2,31.1 L230.3,30.6 L229.9,32.5 L227.2,31.1 M223.2,29.7 L224.4,29.6 L224.5,27.4 L222.9,27.4 L223.2,29.7 M223.3,26.8 L224.1,26.8 L224.1,24.9 L223.3,25.7 L223.3,26.8 M238.3,34.2 L241.1,34.4 L239.3,34.7 L238.3,34.2 M247.0,34.9 L248.7,34.6 L249.1,33.9 L247.7,34.2 L247.0,34.9 M384.1,102.3 L386.5,104.8 L386.1,104.7 L384.1,102.3 M398.6,98.9 L399.9,99.3 L399.3,99.9 L398.6,98.9 M54.4,52.6 L55.2,53.4 L54.0,54.2 L54.4,52.6" fill="none" stroke="#7a7a7a" stroke-width="1.45" stroke-linejoin="round" stroke-linecap="round"/><path d="M293.5,51.0 L295.0,48.5 L298.0,47.0 L301.0,46.0 L302.5,45.0 L304.5,46.0 L308.0,47.0 L310.5,49.5 L313.0,52.0 L316.0,52.8 L320.0,52.0 L322.0,51.5 L324.5,54.0 L326.0,57.0 L326.2,61.0 L325.5,62.5 L323.0,62.0 L320.0,60.0 L318.0,57.5 L316.0,56.5 L313.0,56.8 L310.0,57.5 L307.5,60.0 L305.5,61.2 L303.0,60.8 L300.0,59.5 L297.0,57.0 L294.5,54.5Z" fill="none" stroke="#000" stroke-width="1.8" stroke-linejoin="round" stroke-linecap="round"/></g><path d="M51.1,16.5 L215.1,16.5 L379,16.5 L379,16.5 L380.2,17.7 L381.3,18.8 L382.3,20 L383.4,21.2 L384.4,22.4 L385.4,23.6 L386.4,24.9 L387.3,26.1 L388.3,27.3 L389.2,28.5 L390.1,29.7 L390.9,30.9 L391.7,32.2 L392.4,33.4 L393.2,34.6 L393.9,35.8 L394.6,37.1 L395.2,38.3 L395.8,39.5 L396.4,40.7 L397,42 L397.5,43.2 L398,44.4 L398.5,45.6 L398.9,46.9 L399.3,48.1 L399.7,49.3 L400,50.5 L400.3,51.8 L400.6,53 L401,54.2 L401.3,55.4 L401.6,56.7 L401.8,57.9 L402.1,59.1 L402.4,60.3 L402.6,61.6 L402.8,62.8 L403,64 L403.1,65.2 L403.3,66.5 L403.4,67.7 L403.5,68.9 L403.6,70.1 L403.7,71.4 L403.8,72.6 L403.9,73.8 L403.9,75 L404,76.3 L404,77.5 L404,78.7 L403.9,80 L403.9,81.2 L403.8,82.4 L403.7,83.6 L403.6,84.9 L403.5,86.1 L403.4,87.3 L403.3,88.5 L403.1,89.8 L403,91 L402.8,92.2 L402.6,93.4 L402.4,94.7 L402.1,95.9 L401.8,97.1 L401.6,98.3 L401.3,99.6 L401,100.8 L400.6,102 L400.3,103.2 L400,104.5 L399.7,105.7 L399.3,106.9 L398.9,108.1 L398.5,109.4 L398,110.6 L397.5,111.8 L397,113 L396.4,114.3 L395.8,115.5 L395.2,116.7 L394.6,117.9 L393.9,119.2 L393.2,120.4 L392.4,121.6 L391.7,122.8 L390.9,124.1 L390.1,125.3 L389.2,126.5 L388.3,127.7 L387.3,128.9 L386.4,130.1 L385.4,131.4 L384.4,132.6 L383.4,133.8 L382.3,135 L381.3,136.2 L380.2,137.3 L379,138.5 L379,138.5 L215.1,138.5 L51.1,138.5 L51.1,138.5 L49.9,137.3 L48.8,136.2 L47.8,135 L46.7,133.8 L45.7,132.6 L44.7,131.4 L43.7,130.1 L42.8,128.9 L41.8,127.7 L40.9,126.5 L40,125.3 L39.2,124.1 L38.4,122.8 L37.7,121.6 L36.9,120.4 L36.2,119.2 L35.5,117.9 L34.9,116.7 L34.3,115.5 L33.7,114.3 L33.1,113 L32.6,111.8 L32.1,110.6 L31.6,109.4 L31.2,108.1 L30.8,106.9 L30.4,105.7 L30.1,104.5 L29.8,103.2 L29.5,102 L29.1,100.8 L28.8,99.6 L28.5,98.3 L28.3,97.1 L28,95.9 L27.7,94.7 L27.5,93.4 L27.3,92.2 L27.1,91 L27,89.8 L26.8,88.5 L26.7,87.3 L26.6,86.1 L26.5,84.9 L26.4,83.6 L26.3,82.4 L26.2,81.2 L26.2,80 L26.1,78.7 L26.1,77.5 L26.1,76.3 L26.2,75 L26.2,73.8 L26.3,72.6 L26.4,71.4 L26.5,70.1 L26.6,68.9 L26.7,67.7 L26.8,66.5 L27,65.2 L27.1,64 L27.3,62.8 L27.5,61.6 L27.7,60.3 L28,59.1 L28.3,57.9 L28.5,56.7 L28.8,55.4 L29.1,54.2 L29.5,53 L29.8,51.8 L30.1,50.5 L30.4,49.3 L30.8,48.1 L31.2,46.9 L31.6,45.6 L32.1,44.4 L32.6,43.2 L33.1,42 L33.7,40.7 L34.3,39.5 L34.9,38.3 L35.5,37.1 L36.2,35.8 L36.9,34.6 L37.7,33.4 L38.4,32.2 L39.2,30.9 L40,29.7 L40.9,28.5 L41.8,27.3 L42.8,26.1 L43.7,24.9 L44.7,23.6 L45.7,22.4 L46.7,21.2 L47.8,20 L48.8,18.8 L49.9,17.7 L51.1,16.5Z" fill="none" stroke="#4a4a4a" stroke-width="1.1"/>
<rect x="46" y="14.0" width="16.8" height="13.2" fill="#fff"/>
<g clip-path="url(#cp1)"><path d="M51.1,170 L215.1,170 L379,170 L379,170 L380.2,171.2 L381.3,172.3 L382.3,173.5 L383.4,174.7 L384.4,175.9 L385.4,177.1 L386.4,178.4 L387.3,179.6 L388.3,180.8 L389.2,182 L390.1,183.2 L390.9,184.4 L391.7,185.7 L392.4,186.9 L393.2,188.1 L393.9,189.3 L394.6,190.6 L395.2,191.8 L395.8,193 L396.4,194.2 L397,195.5 L397.5,196.7 L398,197.9 L398.5,199.1 L398.9,200.4 L399.3,201.6 L399.7,202.8 L400,204 L400.3,205.3 L400.6,206.5 L401,207.7 L401.3,208.9 L401.6,210.2 L401.8,211.4 L402.1,212.6 L402.4,213.8 L402.6,215.1 L402.8,216.3 L403,217.5 L403.1,218.7 L403.3,220 L403.4,221.2 L403.5,222.4 L403.6,223.6 L403.7,224.9 L403.8,226.1 L403.9,227.3 L403.9,228.5 L404,229.8 L404,231 L404,232.2 L403.9,233.5 L403.9,234.7 L403.8,235.9 L403.7,237.1 L403.6,238.4 L403.5,239.6 L403.4,240.8 L403.3,242 L403.1,243.3 L403,244.5 L402.8,245.7 L402.6,246.9 L402.4,248.2 L402.1,249.4 L401.8,250.6 L401.6,251.8 L401.3,253.1 L401,254.3 L400.6,255.5 L400.3,256.7 L400,258 L399.7,259.2 L399.3,260.4 L398.9,261.6 L398.5,262.9 L398,264.1 L397.5,265.3 L397,266.5 L396.4,267.8 L395.8,269 L395.2,270.2 L394.6,271.4 L393.9,272.7 L393.2,273.9 L392.4,275.1 L391.7,276.3 L390.9,277.6 L390.1,278.8 L389.2,280 L388.3,281.2 L387.3,282.4 L386.4,283.6 L385.4,284.9 L384.4,286.1 L383.4,287.3 L382.3,288.5 L381.3,289.7 L380.2,290.8 L379,292 L379,292 L215.1,292 L51.1,292 L51.1,292 L49.9,290.8 L48.8,289.7 L47.8,288.5 L46.7,287.3 L45.7,286.1 L44.7,284.9 L43.7,283.6 L42.8,282.4 L41.8,281.2 L40.9,280 L40,278.8 L39.2,277.6 L38.4,276.3 L37.7,275.1 L36.9,273.9 L36.2,272.7 L35.5,271.4 L34.9,270.2 L34.3,269 L33.7,267.8 L33.1,266.5 L32.6,265.3 L32.1,264.1 L31.6,262.9 L31.2,261.6 L30.8,260.4 L30.4,259.2 L30.1,258 L29.8,256.7 L29.5,255.5 L29.1,254.3 L28.8,253.1 L28.5,251.8 L28.3,250.6 L28,249.4 L27.7,248.2 L27.5,246.9 L27.3,245.7 L27.1,244.5 L27,243.3 L26.8,242 L26.7,240.8 L26.6,239.6 L26.5,238.4 L26.4,237.1 L26.3,235.9 L26.2,234.7 L26.2,233.5 L26.1,232.2 L26.1,231 L26.1,229.8 L26.2,228.5 L26.2,227.3 L26.3,226.1 L26.4,224.9 L26.5,223.6 L26.6,222.4 L26.7,221.2 L26.8,220 L27,218.7 L27.1,217.5 L27.3,216.3 L27.5,215.1 L27.7,213.8 L28,212.6 L28.3,211.4 L28.5,210.2 L28.8,208.9 L29.1,207.7 L29.5,206.5 L29.8,205.3 L30.1,204 L30.4,202.8 L30.8,201.6 L31.2,200.4 L31.6,199.1 L32.1,197.9 L32.6,196.7 L33.1,195.5 L33.7,194.2 L34.3,193 L34.9,191.8 L35.5,190.6 L36.2,189.3 L36.9,188.1 L37.7,186.9 L38.4,185.7 L39.2,184.4 L40,183.2 L40.9,182 L41.8,180.8 L42.8,179.6 L43.7,178.4 L44.7,177.1 L45.7,175.9 L46.7,174.7 L47.8,173.5 L48.8,172.3 L49.9,171.2 L51.1,170Z" fill="#f7f6f6"/><path d="M60.5 167.5l119.2 0l-.4 3.5l-1.8 1.7l-25 .5l-2 1.1l-1.5 3.1l-1 1l-3.5 .6l-2.5 -.3l-3.5 -2.6l-2.5 -.6l-50 -.2l-10.5 .5l-9.5 -.1l-2.5 -.8l-2 -1.9l-.7 -2zM344.8 167.5l39.9 0l-.6 4l-3.3 2.5l-2.3 4l-2 .9l-4 .1l-20.5 -.4l-1.4 -1.1l-1.9 -3.5l-3.2 -2.4zM232.6 179.5l2.9 -.5l12 .1l2 .8l2 2.5l1.5 .6l1 -.6l2 -2.5l1.5 -.7l14.5 0l2 1.4l1.1 5.9l.9 1.5l1 .6l3 .4l37 .2l2 1.2l4.1 6.6l1.4 1.4l2 .5l8.5 .2l2 .5l2.9 3.4l3.1 1.6l1.4 1.9l.3 15l-.4 4l-1.8 1.6l-8 1.8l-19 .2l-2.5 .3l-1 .6l-.6 1l.2 1l2.2 2l.7 1.5l.3 9.5l1.2 3l2 .9l9.5 .4l4 2.7l6 1.7l6 -1.2l18.5 -.2l4.5 -1.5l3.8 -.3l39.7 -.1l0 23.7l-91 -.1l-2.5 .6l-2.9 3.4l-2.1 .8l-37 -.1l-1.5 -.7l-1 -1.2l-3.6 -8.8l-.6 -3l-.1 -7l-.7 -2.4l-1.5 -1.3l-4.3 -1.3l-1.7 -3.7l-2.4 .7l-1.3 2l-.9 4.5l-.4 10l-1.5 3.9l-1.5 1.7l-1 -.2l-2 -2.1l-2.5 -1.7l-2 -2.7l-1.5 -1.1l-12 -.4l-2 -.5l-1 -1l-.6 -1.9l0 -3l.6 -1.9l1.5 -1.3l5 -1.1l.8 -1.2l0 -1l-.8 -1.2l-3 -1.7l-2.4 -3.1l-3 -2.5l-1.6 -8.1l-1.5 -1l-5 -.4l-2 -.8l-1.1 -1.7l-1.4 -6l-1 -1.4l-1 -.5l-14.5 -.3l-9.5 -.7l-2 -.7l-1 -1.4l-.7 -4l-1.6 -4l-3.6 -5l-.3 -7.5l.3 -2.5l.9 -1.5l1 -.5l1.6 0l1.8 1.5l3.1 6.5l1.5 1.1l1.5 0l1.4 -1.1l.6 -1.5l.3 -7l.7 -2l2 -1.2l7 -1l1.5 .7l2 2.6l3.5 2l.6 1.9l-.5 5l1.4 1.6l2 0l1.5 -1.2l1.1 -2.4l.2 -12l1.2 -3l2 -.9l10.5 -.4l1.1 -.7zM262.0 189.5l-1 .9l-.3 1.1l.3 1.1l1 .9l4.5 .2l2.1 -1.2l0 -2l-1.1 -1l-2.5 -.4zM275.5 249.3l-.4 .7l.2 1.5l1.7 2l4.5 .3l2.1 -1.3l0 -2l-1.1 -1l-2.5 -.4zM229.0 214.4l-1.3 1.1l-.5 2l.6 3.5l1.2 2.1l2 .8l3.5 .1l2 -.2l1.5 -.9l.8 -1.4l.1 -1.5l-2.4 -4.8l-2.5 -1.1zM262.0 244.5l-1 .7l-.7 1.3l-.2 2l.4 .4l12 0l1.8 -.4l-.3 -2.5l-1.5 -1.5l-5.5 -.4zM58.1 199.5l10.9 -.1l1.5 1l.3 1.6l-.8 1.2l-1.5 .6l-9.5 0l-1.5 -.6l-.7 -1.2l.1 -1.5zM78.0 204.5l2.5 -.4l9 .1l1.7 .8l.6 2l-.8 1.2l-1.5 .6l-10.5 0l-1.5 -.6l-.8 -1.2l.2 -1.5zM122.0 204.5l2.5 -.4l10 .1l1.7 .8l.5 2l-.7 1.2l-1.5 .6l-11.5 0l-1.5 -.5l-.8 -1.3l.2 -1.5zM98.7 209.5l2.8 -.5l13 .1l2 .9l.6 2.5l-1.4 3l-2.2 1.6l-13.5 .2l-2 -.8l-1.1 -2l.2 -3zM24.5 254.0l101.5 .1l2.4 .9l2 3.5l1.1 .4l23.5 .1l2.5 .4l1.7 1.6l.5 4l-.5 2l-1.2 1.4l-6.4 1.1l-3.1 3.6l-2.5 .8l-126 .2l0 -20.1zM127.5 262.9l-2 1.6l-.8 1.5l.3 1.7l1.5 .9l1.9 -.6l.9 -2l-.3 -2.9l-.5 -.5zM166.7 259.5l2.8 -.5l17.5 .2l1.6 .8l2.4 3.1l3.4 1.4l-.1 2l-3.2 6l-2.1 1.3l-21.5 0l-1.9 -1.3l-.8 -3l.2 -7.5l.6 -1.5zM196.4 260.0l1.1 -.2l1.1 .7l.7 1.5l-.1 1.5l-2.2 .4l-1.8 -.4l.2 -2zM200.2 264.5l1.8 -.3l2 .6l.7 1.2l-.2 1.6l-1.5 .9l-1.5 -.3l-1.2 -1.7z" fill="#cae1ee" fill-rule="evenodd"/><path d="M63.0 167.5l14.7 0l-.1 2.5l-.6 1.5l-1.9 1l-9.1 0l-1.5 -.6l-.9 -.9zM261.7 199.5l2.8 -.4l3 .3l1.5 1l2 2.7l2 .8l21 .1l4 -.6l2.9 -3.4l1.1 -.7l4 -.3l3.5 .3l1.6 1.2l4.4 7.1l2.5 2l.9 1.4l.2 1.5l-1.9 9.5l-1.5 1.5l-4.7 1.2l-3 3.3l-1.5 .8l-28.5 .3l-2 .8l-2 2.1l-1.5 .8l-7.5 1.4l-6 .4l-1.5 .8l-2 1.9l-1.5 .6l-6 0l-2.2 -.9l-2.3 -3.2l-3.7 -1.3l-1.1 -1.5l.2 -2l1.6 -2.9l3.5 -2.8l.9 -1.3l-.2 -2l-2.9 -5l-3.8 -4.8l-1.5 -1l-10.5 -.3l-2.5 .6l-1.4 2l-.6 5l-1.2 4.5l.8 4.5l-.4 2l-.7 .7l-1.5 .5l-1.5 -.4l-.7 -.8l-.8 -2.2l-.6 -4.8l-.1 -11l.6 -3l1.6 -1.9l2.5 -.6l37 -.1l2 -.8zM372.9 254.5l3.1 -.4l34 0l0 14.8l-26.5 .1l-6.5 -.4l-1.5 -1l-4.4 -6.1l-.1 -4.5l.6 -1.5zM327.7 255.5l1.3 -.4l3.5 .8l1.5 1.1l.6 1.5l-.2 3.5l-1.4 3.7l-1.4 2.3l-1.6 .7l-2.5 0l-1.5 -.6l-2.3 -3.1l-2.5 -2l-.5 -1l.6 -2l3.7 -1.5zM342.7 256.0l3.3 -.4l16.5 .2l1.3 .7l.6 1l0 4l-3 5.5l-1.6 1.5l-2.8 .4l-9.5 -.2l-1.6 -.7l-2.3 -3l-2.1 -1.5l-1.1 -1.5l.1 -3.5l.8 -1.5zM52.4 258.0l2.1 -.1l2.1 .6l1.6 1l1 1.5l.2 2l-.6 3l-.8 1.5l-1.5 1.1l-3 .4l-33.5 -.2l0 -4.7l9.5 -.4l1.5 -1.1l1.9 -2.6l1.1 -.6l14 -.4z" fill="#81bad8" fill-rule="evenodd"/><path d="M259.7 209.5l2.3 -.5l5.5 0l3 .9l4.2 6.6l1.3 3.5l-.1 2l-.9 1.4l-2.5 1.9l-2 2.8l-5 3l-7.5 .8l-4 .9l-3 -.2l-1.3 -1.6l.5 -3l3.3 -6.1l4.4 -10.4zM384.2 259.5l1.8 -.1l1.5 1l.2 1.6l-.7 1.1l-2.5 .5l-1.5 -1l-.1 -2.1z" fill="#3783bb" fill-rule="evenodd"/><path d="M237.8 167.5l7.9 0l-.6 4l-2.1 1.3l-3.5 -.3l-1.3 -1.5zM257.8 167.5l3.9 0l-.3 3l-.9 1.3l-1 .2l-1 -.7zM267.8 167.5l21.9 0l0 1.5l-.7 2.6l-2 1.2l-15.5 .1l-2 -.4l-1 -.9zM84.3 179.5l10.7 0l1.5 .9l.2 1.6l-.7 1.2l-1.5 .6l-9.5 0l-1.5 -.6l-.8 -1.2l.3 -1.5zM172.7 179.5l3.3 -.5l24.5 .1l2.5 .7l.8 1.7l-.8 1.8l-5.5 3.8l-4.5 .5l-5 1.3l-12.5 0l-2.5 -.8l-1.4 -2.6l-.3 -4zM52.0 184.5l4 -.5l18 .1l2 .7l.8 1.7l-.6 1.5l-3.2 1.9l-2 2.7l-1.5 1l-11 .3l-2.5 -.8l-2.3 -3.1l-2.5 -2l-.5 -2zM376.6 204.5l2.9 -.5l30.5 0l0 10l-22.5 .2l-2 1.4l-.7 3.4l.7 3.4l2 1.4l22.5 .2l0 23.4l-42.5 -.1l-2 -.7l-4.5 -3.5l-2 -3.8l-1.5 -1l-19 -.4l-2.6 -.9l-.6 -1.5l.4 -1.5l3.8 -3l8 -1.8l5 -.5l1.5 -1.1l2 -2.7l1.5 -.7l9 -.3l2 -.9l1 -2l.9 -5.5l4.6 -9.3zM20.0 209.5l0 -.5l22 .2l1.6 .8l3 3.5l1.9 .4l9 .4l1.5 1.1l2 2.7l2 .8l29.5 .1l8.5 1.4l11.5 0l5 -.8l1.2 .4l2.7 2l2.6 .4l8 .1l1.1 -.5l2.4 -2.4l2 -.5l25 -.2l2 -.8l3 -3.5l4.5 -.5l1.8 .4l1.1 1l1.5 6l2.1 2l4 -.2l9.5 .9l5.5 1.3l11.5 .5l1.4 .5l.4 1l-.7 1l-3.2 1.5l-.8 1.5l-1 5l-1.1 1l-1.5 .4l-34.5 .2l-2.2 .9l-1.9 3.5l-1.9 1.3l-31 .3l-2 .8l-2.5 3.2l-2.5 .8l-56.5 0l-2.5 -.8l-2.4 -3.1l-1.6 -.8l-21 -.6l-1.4 -1.1l-1.9 -3.5l-3.7 -1.8l-3 -3.7l-2 -.5l-8 0zM56.0 229.4l-1 .6l-.9 1.5l-.2 3.5l1.1 2.2l2 .5l1.5 -.7l.5 -1l.2 -3.5l-.9 -2.5l-.8 -.5zM20.0 283.5l0 -.5l390 0l0 11.5l-390 0z" fill="#fcd5bf" fill-rule="evenodd"/><path d="M67.7 224.5l3.3 -.4l44 0l5 1.6l9.5 .2l1.5 1.1l.6 2.5l-.5 2l-1.1 1l-3.8 1l-9.2 4.4l-10.9 .6l-4.1 1.7l-2 .3l-31 -.1l-2.5 -.7l-3 -2l-.9 -1.2l-.4 -2l.1 -2.5l.7 -2l3.5 -4.6zM167.7 224.5l3.8 -.4l2.5 .9l2.6 4l.3 1.5l-.6 1.5l-1.3 .7l-2.5 .3l-3.5 -.1l-2 -.7l-1 -1.7l-.1 -2.5l.6 -2.4zM183.4 226.5l6.6 -.2l2.5 .6l2 2.1l.2 2.5l-1.1 1l-1.6 .4l-6 0l-2.5 -.4l-1.1 -1l-.5 -2l.4 -2z" fill="#ee9677" fill-rule="evenodd"/><path d="M84.0 229.5l3 -.4l24.5 0l2.5 .7l.8 1.7l-1.2 2.5l-2.4 1l-23.7 .4l-2.5 -.5l-1.9 -1.9l-.4 -2z" fill="#c94741" fill-rule="evenodd"/><path d="M40.9,280 L389.2,280 M29.5,255.5 L400.6,255.5 M26.1,231 L404,231 M29.5,206.5 L400.6,206.5 M40.9,182 L389.2,182 M133.1,170 L131.7,172.9 L130.4,175.9 L129.1,179 L128,182 L126.9,185 L126,188.1 L125.1,191.2 L124.4,194.2 L123.7,197.3 L123.1,200.4 L122.7,203.4 L122.3,206.5 L121.9,209.6 L121.5,212.6 L121.2,215.7 L121,218.7 L120.8,221.8 L120.7,224.9 L120.6,227.9 L120.6,231 L120.6,234.1 L120.7,237.1 L120.8,240.2 L121,243.3 L121.2,246.3 L121.5,249.4 L121.9,252.4 L122.3,255.5 L122.7,258.6 L123.1,261.6 L123.7,264.7 L124.4,267.8 L125.1,270.8 L126,273.9 L126.9,277 L128,280 L129.1,283 L130.4,286.1 L131.7,289.1 L133.1,292 M215.1,170 L215.1,172.9 L215.1,175.9 L215.1,179 L215.1,182 L215.1,185 L215.1,188.1 L215.1,191.2 L215.1,194.2 L215.1,197.3 L215.1,200.4 L215.1,203.4 L215.1,206.5 L215.1,209.6 L215.1,212.6 L215.1,215.7 L215.1,218.7 L215.1,221.8 L215.1,224.9 L215.1,227.9 L215.1,231 L215.1,234.1 L215.1,237.1 L215.1,240.2 L215.1,243.3 L215.1,246.3 L215.1,249.4 L215.1,252.4 L215.1,255.5 L215.1,258.6 L215.1,261.6 L215.1,264.7 L215.1,267.8 L215.1,270.8 L215.1,273.9 L215.1,277 L215.1,280 L215.1,283 L215.1,286.1 L215.1,289.1 L215.1,292 M297,170 L298.4,172.9 L299.7,175.9 L301,179 L302.1,182 L303.2,185 L304.1,188.1 L305,191.2 L305.7,194.2 L306.4,197.3 L307,200.4 L307.4,203.4 L307.8,206.5 L308.2,209.6 L308.6,212.6 L308.9,215.7 L309.1,218.7 L309.3,221.8 L309.4,224.9 L309.5,227.9 L309.5,231 L309.5,234.1 L309.4,237.1 L309.3,240.2 L309.1,243.3 L308.9,246.3 L308.6,249.4 L308.2,252.4 L307.8,255.5 L307.4,258.6 L307,261.6 L306.4,264.7 L305.7,267.8 L305,270.8 L304.1,273.9 L303.2,277 L302.1,280 L301,283 L299.7,286.1 L298.4,289.1 L297,292" fill="none" stroke="#8c8c8c" stroke-opacity="0.85" stroke-width="1" stroke-dasharray="4.6,2.4"/><path d="M373.0,234.2 L374.5,235.0 L375.7,236.6 L375.2,236.9 L373.9,235.4 L373.0,234.2 M377.1,237.1 L378.4,238.6 L377.9,239.5 L377.0,238.2 L377.1,237.1 M379.0,239.2 L379.9,239.9 L382.2,241.4 L381.9,241.8 L379.6,240.6 L379.0,239.2 M382.1,242.3 L383.3,242.9 L383.2,243.4 L382.0,242.8 L382.1,242.3 M383.3,241.3 L383.9,242.4 L383.6,242.6 L383.0,241.8 L383.3,241.3 M388.2,249.4 L388.7,250.1 L388.7,251.3 L389.3,252.7 L389.2,254.0 L389.6,254.9 M368.9,233.5 L369.7,233.6 L369.3,233.8 L368.9,233.5 M97.4,167.6 L98.8,169.4 L99.9,171.2 L100.2,171.9 L99.6,173.7 L97.7,177.1 L96.1,179.3 L95.1,181.5 L94.7,183.2 L95.3,184.7 L95.2,186.1 L95.5,188.6 L97.3,189.3 L98.0,190.9 L98.2,192.4 L98.5,193.9 L99.1,196.1 L99.2,197.5 L100.4,199.1 L101.2,201.0 L102.3,202.9 L103.0,202.2 L102.2,201.2 L101.7,199.1 L101.1,196.9 L100.6,195.1 L100.1,192.2 L101.2,192.6 L101.8,194.8 L102.7,196.9 L103.7,198.9 L104.7,200.4 L105.9,202.2 L106.6,204.3 L106.4,205.9 L107.3,207.6 L109.0,208.9 L110.9,209.9 L112.9,211.0 L114.9,211.8 L116.8,211.1 L118.0,211.6 L119.2,213.2 L120.3,214.0 L121.9,214.5 L123.6,214.8 L124.1,215.2 L124.8,216.2 L125.6,217.4 L125.4,218.5 L125.9,218.9 L126.5,219.1 L127.6,220.6 L128.6,221.0 L129.8,221.4 L130.9,222.1 L131.1,221.3 L131.8,220.2 L133.0,220.8 L133.4,221.8 L133.9,222.8 L133.9,224.3 L134.0,226.1 L132.7,227.9 L132.1,229.2 L131.1,230.0 L131.0,231.9 L130.1,232.8 L130.8,234.2 L131.2,235.0 L129.9,236.5 L130.1,238.2 L131.5,239.8 L133.0,242.4 L134.5,245.5 L135.6,247.5 L136.9,249.8 L139.4,251.5 L141.2,252.8 L142.4,253.5 L142.9,257.1 L142.8,259.9 L143.2,263.4 L142.9,266.3 L143.2,269.0 L143.5,271.4 L143.6,274.3 L143.3,276.6 L143.6,278.8 L144.2,281.8 L144.9,282.8 L145.0,284.9 L145.1,287.0 L144.8,288.5 L146.0,290.6 L146.4,292.6 L148.0,295.0 M131.8,219.2 L133.0,219.5 L134.2,220.5 L134.9,220.2 L135.9,219.4 L136.2,218.0 L137.6,217.2 L138.9,216.7 L140.0,215.8 L140.7,216.5 L140.0,217.2 L140.3,218.1 L140.9,217.4 L142.0,216.8 L143.7,217.8 L145.9,218.0 L147.9,218.1 L149.6,218.0 L150.4,218.5 L151.3,219.6 L152.1,220.6 L153.3,221.2 L154.3,222.7 L155.8,223.8 L157.4,223.6 L159.0,224.1 L160.5,225.4 L161.4,225.9 L161.9,228.2 L162.6,228.9 L162.3,230.4 L163.6,231.2 L164.4,232.3 L165.7,231.9 L167.5,232.8 L168.6,234.1 L170.5,234.4 L172.2,234.6 L173.9,235.3 L175.7,236.8 L177.8,237.4 L178.5,239.3 L178.5,241.0 L177.9,242.6 L176.6,244.1 L175.4,246.3 L174.6,247.9 L174.6,250.6 L174.4,252.8 L174.0,255.0 L173.2,257.7 L172.1,259.1 L170.4,259.2 L168.7,260.0 L167.0,261.0 L165.5,263.0 L165.7,265.7 L165.0,267.0 L164.2,269.0 L163.2,270.2 L162.7,272.1 L162.0,273.2 L160.7,273.9 L159.4,273.8 L157.9,273.3 L157.1,273.0 L158.5,274.5 L159.2,275.6 L158.9,277.4 L157.6,278.3 L155.5,278.8 L154.4,278.5 L154.9,280.2 L154.5,281.3 L152.6,281.0 L152.8,282.4 L153.6,283.0 L154.3,283.4 L153.4,284.2 L153.6,286.1 L152.3,286.1 L152.0,287.7 L153.6,288.8 L154.2,289.5 L153.4,290.5 L153.2,291.9 L152.8,292.6 L152.8,293.9 L153.8,294.8 M154.7,169.4 L156.4,169.7 L156.1,171.2 L154.9,171.9 L155.3,172.8 L154.8,173.8 L155.2,174.6 L157.0,174.9 L157.8,175.5 L158.7,174.6 L157.6,175.3 L155.2,176.3 L153.5,177.6 L152.6,177.3 L152.9,175.8 L151.8,176.3 L150.1,176.7 L148.6,177.5 L147.6,178.6 L147.3,179.8 L148.0,179.8 L147.4,180.2 L146.1,180.4 L144.0,181.0 L143.6,181.5 L143.1,182.6 L142.2,183.3 L141.4,184.0 L140.5,185.7 L140.3,187.5 L139.3,188.5 L137.6,189.5 L136.1,190.3 L134.2,191.5 L133.2,193.5 L133.2,195.2 L133.5,196.4 L133.5,198.4 L133.0,200.1 L132.3,200.1 L131.7,198.9 L131.2,197.2 L131.4,195.3 L130.3,194.1 L128.9,194.6 L128.0,193.7 L126.5,193.6 L124.8,194.0 L125.0,195.1 L123.6,195.3 L121.9,194.7 L120.2,194.6 L118.8,195.5 L116.9,196.6 L116.0,198.0 L115.6,199.4 L115.1,201.3 L114.6,203.7 L114.9,205.5 L115.7,207.5 L117.1,208.7 L118.9,208.5 L120.4,208.3 L121.5,207.1 L122.0,205.3 L123.8,204.8 L125.5,204.7 L125.1,206.2 L124.3,208.2 L123.6,209.9 L123.4,211.5 L124.1,211.6 L125.7,211.5 L126.9,211.5 L128.4,212.4 L128.5,213.5 L127.9,215.3 L127.7,216.9 L128.0,218.0 L128.8,219.2 L129.8,220.2 L130.9,219.8 L131.8,219.2 M127.8,204.2 L129.4,202.9 L131.0,202.6 L132.7,202.7 L134.4,203.7 L135.7,204.5 L137.1,205.1 L138.6,206.1 L137.8,206.6 L135.3,206.6 L135.1,205.8 L134.2,204.5 L132.6,204.3 L131.0,203.8 L130.2,204.0 L128.7,204.3 L127.8,204.2 M138.1,208.5 L140.0,206.6 L141.6,206.6 L142.9,207.0 L144.4,208.2 L143.2,208.6 L141.4,209.3 L139.8,208.8 L138.1,208.5 M134.1,208.5 L135.8,208.3 L136.2,209.1 L134.8,209.2 L134.1,208.5 M145.6,208.3 L147.2,208.5 L147.0,208.9 L145.5,208.9 L145.6,208.3 M135.5,198.3 L136.7,198.4 L136.2,199.3 L135.5,198.3 M135.2,200.1 L135.6,201.3 L135.3,201.2 L135.2,200.1 M160.0,172.8 L163.2,172.8 L165.1,173.5 L166.3,172.8 L166.1,170.8 L164.4,170.2 L163.9,168.4 L164.9,168.1 L162.9,169.3 L160.6,171.7 L160.0,172.8 M98.7,169.0 L99.7,169.5 L100.1,170.9 L101.4,171.9 L100.3,171.6 L98.8,170.3 L98.7,169.0 M216.5,168.9 L215.5,170.0 L214.1,170.7 L213.6,170.3 L213.3,171.5 L210.8,171.6 L211.1,172.6 L212.5,173.1 L213.2,173.7 L213.9,174.7 L213.9,176.4 L213.6,177.9 L211.6,177.8 L209.4,177.6 L207.5,177.5 L206.2,178.4 L206.5,180.2 L206.5,181.8 L205.8,183.6 L206.5,184.2 L206.3,185.7 L207.7,185.4 L208.7,185.8 L209.1,186.8 L209.7,186.8 L210.6,186.0 L213.0,186.0 L214.4,184.9 L215.2,183.5 L214.8,182.6 L215.9,180.8 L218.1,179.7 L218.0,178.2 L219.4,177.9 L221.2,178.2 L222.2,177.4 L223.4,176.7 L224.7,177.3 L225.1,178.5 L226.8,180.1 L228.5,181.0 L230.1,182.0 L230.5,183.6 L230.4,184.6 L230.8,184.4 L231.2,183.3 L231.6,182.7 L231.4,181.5 L232.9,182.1 L232.7,181.3 L231.5,180.7 L230.4,179.7 L228.7,179.1 L228.0,177.6 L226.7,176.5 L226.7,175.5 L227.9,175.1 L228.1,176.2 L229.4,176.9 L230.7,177.9 L232.7,179.1 L233.6,179.8 L233.8,181.6 L234.6,182.5 L235.5,184.1 L236.3,185.9 L237.2,186.4 L237.7,185.8 L237.5,184.9 L238.5,184.8 L237.5,183.7 L237.0,182.9 L237.1,181.5 L238.3,181.9 L238.6,180.9 L240.1,181.0 L240.5,181.6 L241.5,180.9 L242.9,180.7 L241.9,179.7 L241.4,178.8 L242.2,177.8 L242.2,176.8 L242.9,175.7 L243.6,174.6 L244.6,174.1 L246.4,174.7 L245.6,175.5 L246.8,176.5 L248.4,175.8 L249.3,175.6 L250.5,173.4 L251.5,173.5 L250.7,174.4 L250.4,176.3 L252.5,177.8 L254.9,180.1 L253.6,180.9 L250.6,180.5 L248.6,179.6 L246.6,179.6 L245.1,180.7 L243.2,180.8 L241.6,181.5 L240.5,182.0 L240.4,182.7 L241.2,183.8 L241.7,185.2 L242.5,185.9 L244.2,186.6 L245.1,186.0 L246.5,186.3 L248.5,186.5 L250.6,186.0 L250.5,187.7 L250.3,189.3 L250.1,190.6 L249.7,191.9 L249.4,192.6 L248.2,192.9 L247.4,192.6 L245.1,192.5 L244.2,193.1 L242.1,192.6 L240.1,192.3 L238.2,191.5 L236.0,190.8 L235.2,191.8 L235.1,193.0 L234.2,193.9 L232.1,192.9 L230.4,191.5 L228.0,190.7 L226.1,190.2 L225.2,189.3 L226.0,187.9 L225.3,186.0 L224.4,185.3 L222.4,185.7 L220.0,185.9 L218.0,185.9 L216.0,186.3 L213.6,187.9 L212.9,188.0 L209.8,187.0 L208.9,187.7 L208.2,189.3 L206.5,190.2 L205.7,191.4 L205.2,192.8 L205.4,194.2 L204.4,195.5 L202.9,196.6 L201.7,197.3 L200.3,198.9 L199.2,201.0 L198.3,202.2 L197.6,204.9 L198.0,207.0 L198.4,208.9 L197.9,211.3 L197.3,213.0 L197.7,214.3 L197.5,215.8 L198.9,216.9 L199.7,217.9 L201.0,219.6 L201.5,221.4 L203.1,222.7 L205.1,224.5 L207.2,225.6 L209.8,224.7 L213.0,225.1 L215.1,224.1 L216.6,223.4 L218.2,223.3 L219.8,223.3 L220.8,224.6 L221.7,225.7 L222.9,225.5 L224.0,225.4 L224.7,226.2 L225.3,227.9 L225.1,229.8 L224.8,231.4 L224.5,232.0 L225.5,234.4 L226.7,235.8 L227.6,237.1 L227.9,238.5 L228.5,240.1 L228.9,241.8 L228.6,243.3 L229.3,244.8 L229.0,246.4 L228.1,248.2 L227.7,249.6 L227.2,251.8 L227.9,254.2 L228.8,256.6 L229.8,259.1 L229.9,261.4 L230.3,263.5 L230.8,264.8 L231.6,266.0 L232.4,267.8 L233.1,270.0 L233.2,271.2 L233.3,272.9 L234.7,273.6 L236.9,272.9 L238.9,272.8 L240.5,272.7 L241.9,272.1 L243.5,270.8 L245.2,269.4 L246.3,267.2 L247.8,265.9 L248.6,263.1 L248.4,262.7 L249.2,262.1 L251.4,260.4 L251.3,258.6 L251.3,257.0 L250.8,256.1 L251.4,254.9 L252.8,254.0 L254.4,252.2 L256.0,251.2 L257.4,248.8 L257.3,245.7 L257.3,243.9 L256.2,241.4 L256.4,239.0 L255.7,238.1 L256.1,236.8 L257.2,234.3 L258.6,233.1 L259.7,231.6 L260.8,230.1 L263.3,228.2 L265.4,225.5 L266.9,222.4 L268.1,218.7 L268.5,216.5 L266.7,217.3 L265.2,217.3 L262.0,218.1 L260.4,216.9 L260.1,215.6 L259.3,215.1 L257.9,213.2 L256.1,212.0 L254.9,208.9 L253.3,205.3 L252.8,203.4 L251.4,201.8 L250.2,199.1 L249.0,196.9 L247.9,194.4 L247.5,192.8 M247.9,194.4 L248.8,196.1 L249.8,196.9 L250.1,195.5 L250.3,194.8 L250.7,196.7 L252.4,199.3 L253.9,201.6 L255.2,204.0 L256.5,206.2 L257.9,209.2 L259.2,211.1 L259.5,212.9 L260.2,215.4 L261.4,215.4 L263.5,214.6 L265.5,213.8 L267.5,212.6 L269.2,211.5 L271.2,210.2 L272.5,209.2 L273.5,208.3 L274.7,207.7 L275.4,205.9 L276.4,203.4 L275.3,202.1 L273.4,201.6 L272.7,200.5 L272.4,198.8 L271.7,199.7 L270.8,201.2 L268.3,201.6 L267.7,201.1 L267.7,199.7 L267.3,199.0 L266.9,200.4 L266.2,198.9 L265.3,197.7 L264.1,196.1 L263.4,194.4 L264.2,194.1 L265.6,194.2 L266.6,195.7 L268.3,197.3 L270.5,198.4 L272.4,197.8 L273.5,199.3 L275.8,199.9 L277.9,200.1 L280.4,200.0 L282.9,199.9 L283.8,200.6 L285.2,202.2 L286.7,203.4 L287.6,205.5 L289.7,204.9 L290.2,207.7 L291.2,211.4 L292.6,214.0 L293.6,216.9 L294.8,219.4 L296.1,221.1 L296.8,220.0 L297.9,218.4 L298.3,216.7 L298.7,214.5 L298.3,212.0 L299.6,210.9 L301.3,209.3 L303.0,207.1 L304.5,205.3 L305.7,204.4 L306.6,204.3 L308.1,203.4 L309.3,203.7 L310.1,205.6 L311.5,207.1 L312.6,208.9 L312.8,211.4 L314.1,211.8 L315.6,210.3 L316.4,211.4 L317.3,214.5 L317.8,216.3 L318.1,218.7 L317.9,220.8 L320.0,223.0 L320.3,224.9 L321.0,227.3 L323.6,229.4 L324.4,229.3 L323.5,225.7 L322.2,223.4 L320.3,221.9 L319.5,219.7 L318.7,218.4 L319.3,215.7 L319.7,214.5 L320.3,215.4 L321.9,216.0 L322.6,217.5 L324.2,218.3 L324.9,220.5 L326.6,219.2 L327.5,217.8 L329.0,216.7 L328.8,215.1 L328.1,212.4 L326.2,210.4 L324.3,208.0 L324.8,206.0 L326.0,204.7 L327.7,204.5 L328.9,206.1 L329.7,204.7 L331.6,203.7 L334.0,202.9 L335.4,202.1 L337.0,199.7 L337.4,197.5 L337.9,194.4 L337.5,193.1 L335.8,191.2 L334.4,189.0 L333.0,188.1 L333.8,186.8 L335.3,185.8 L334.0,185.0 L331.7,185.4 L330.6,184.1 L329.5,183.2 L330.5,182.2 L331.6,181.0 L333.0,182.0 L333.0,183.5 L333.7,182.7 L335.4,182.1 L337.4,184.4 L339.3,186.3 L340.3,188.6 L341.3,188.4 L342.8,187.7 L342.1,185.9 L340.3,183.8 L338.6,182.4 L339.9,180.9 L339.9,179.2 L341.0,178.1 L343.4,177.4 L343.9,174.1 L344.2,171.7 L342.1,168.8 M261.2,174.1 L262.9,173.5 L264.4,173.8 L264.9,175.7 L263.5,176.5 L265.1,178.6 L267.0,180.8 L266.3,182.0 L267.9,185.4 L265.6,185.9 L263.2,185.0 L262.9,181.8 L261.8,179.8 L260.3,178.4 L259.6,175.3 L261.2,174.1 M209.9,170.0 L211.9,169.5 L214.1,169.1 L216.0,168.9 L216.4,168.4 L215.5,167.8 L216.6,166.8 L215.5,166.4 L214.9,165.3 M212.4,166.1 L210.9,166.7 L211.5,167.6 L210.4,168.0 L211.9,168.3 L211.0,168.7 L209.9,170.0 M209.7,167.6 L209.2,167.4 L207.4,168.1 L205.8,167.8 L206.6,166.4 L206.2,165.3 M345.1,189.3 L346.3,189.6 L347.6,189.1 L349.4,189.6 L350.2,189.9 L350.8,189.0 L352.5,188.5 L353.4,188.1 L354.0,187.4 L353.3,185.7 L353.1,184.1 L352.8,182.6 L350.9,180.3 L350.1,181.1 L350.8,183.0 L350.9,184.6 L349.2,185.5 L349.2,187.5 L346.4,187.5 L345.0,188.8 L345.1,189.3 M344.2,190.2 L345.7,192.6 L346.3,193.0 L346.8,192.5 L346.5,190.7 L345.2,189.5 L344.2,190.2 M347.0,190.2 L348.0,190.6 L349.0,189.6 L348.3,189.0 L346.9,189.5 L347.0,190.2 M349.4,180.2 L350.4,179.8 L352.1,179.6 L353.3,178.0 L352.3,176.8 L348.1,175.3 L349.4,178.0 L348.5,178.2 L349.4,180.2 M347.8,174.7 L348.8,174.1 L346.0,171.2 L344.6,168.8 L343.7,168.8 L346.2,172.3 L347.8,174.7 M338.2,202.8 L338.6,200.1 L339.6,200.5 L339.5,203.4 L339.1,204.0 L338.2,202.8 M327.2,207.5 L328.4,206.4 L329.6,206.9 L329.3,208.3 L328.3,208.7 L327.2,207.5 M339.7,208.3 L341.4,208.3 L341.8,210.2 L341.3,211.5 L341.6,213.6 L344.2,215.1 L343.7,214.1 L342.6,214.0 L341.0,214.3 L340.5,213.2 L339.6,211.4 L339.7,208.3 M342.8,222.4 L344.2,220.3 L346.2,219.2 L347.5,221.8 L346.6,223.9 L345.5,223.6 L342.8,222.4 M342.3,216.5 L343.8,217.8 L344.5,217.2 L345.5,217.5 L345.9,215.7 L344.6,215.7 L342.3,216.5 M337.7,220.7 L339.9,217.2 L339.6,217.2 L337.4,220.5 L337.7,220.7 M329.4,229.2 L330.1,228.5 L331.5,228.9 L334.1,226.7 L336.1,224.5 L337.5,222.4 L339.2,224.1 L340.0,224.6 L338.8,225.7 L338.7,228.8 L340.0,229.9 L338.4,231.0 L337.3,232.8 L337.2,235.3 L335.1,235.8 L332.2,234.9 L330.7,234.6 L330.5,232.5 L330.0,230.4 L329.4,229.2 M314.9,224.1 L317.2,224.6 L320.3,227.9 L323.9,231.0 L324.7,232.8 L326.2,234.7 L325.9,238.1 L324.5,238.2 L322.3,235.9 L320.5,232.8 L319.0,230.4 L317.9,228.2 L314.9,224.1 M325.2,239.3 L326.6,238.4 L328.5,238.6 L330.8,239.5 L333.0,239.5 L334.9,240.4 L334.7,241.7 L331.2,241.0 L328.6,240.6 L326.5,240.1 L325.2,239.3 M335.4,240.9 L336.9,241.2 L339.6,241.2 L342.7,241.0 L343.7,241.3 L342.6,241.8 L339.5,241.9 L336.9,241.9 L335.4,240.9 M344.2,243.6 L345.2,242.4 L345.9,241.5 L348.2,241.3 L346.2,242.5 L344.6,243.5 L344.2,243.6 M340.2,237.7 L340.4,235.3 L339.7,234.4 L340.8,231.0 L341.1,230.0 L342.0,229.4 L344.1,229.9 L345.7,229.0 L346.4,229.2 L345.2,230.5 L342.6,230.4 L341.5,232.0 L342.7,232.2 L344.2,232.0 L342.8,233.2 L343.5,235.0 L343.7,236.6 L342.4,236.8 L342.3,234.7 L341.5,234.7 L341.1,237.7 L340.2,237.7 M348.8,228.5 L350.1,229.2 L349.4,230.0 L350.1,231.0 L349.3,231.7 L348.7,229.8 L348.8,228.5 M349.3,234.7 L352.2,235.4 L350.9,235.3 L349.3,235.3 L349.3,234.7 M352.5,232.7 L354.1,231.5 L355.8,232.2 L356.2,234.2 L357.2,235.0 L359.8,232.8 L363.0,234.2 L366.6,235.7 L367.9,237.1 L368.2,237.7 L369.7,238.4 L369.1,240.2 L370.7,242.0 L372.2,243.9 L369.2,243.4 L367.8,240.8 L365.8,240.4 L364.9,242.3 L362.5,242.2 L360.5,240.9 L360.0,241.2 L359.4,237.7 L356.8,236.4 L355.0,235.9 L353.8,234.4 L355.1,234.1 L352.7,232.8 L352.5,232.7 M370.7,237.7 L372.3,237.7 L373.9,236.1 L374.7,236.3 L373.8,237.7 L371.7,238.7 L370.7,237.7 M331.7,258.0 L332.4,257.7 L335.0,256.4 L337.8,255.4 L340.5,254.3 L341.7,252.1 L343.1,251.2 L344.4,249.6 L346.2,248.2 L347.7,248.2 L349.1,249.1 L349.6,249.3 L350.7,246.9 L351.6,246.0 L353.3,245.1 L354.8,245.6 L356.9,245.7 L357.6,246.1 L356.6,247.3 L355.8,249.0 L357.2,250.6 L359.3,252.3 L360.8,252.3 L362.2,249.4 L362.5,246.9 L363.3,244.5 L363.9,244.1 L364.6,246.3 L364.6,248.4 L366.0,249.4 L365.8,251.2 L366.0,254.3 L368.4,256.0 L369.5,258.6 L371.0,262.0 L370.8,264.1 L370.5,266.2 L368.7,269.0 L367.4,271.0 L365.1,272.7 L363.2,274.9 L361.8,277.0 L359.5,277.4 L357.3,278.9 L356.3,277.8 L354.7,278.5 L353.0,278.0 L352.0,276.7 L352.6,275.0 L351.4,274.6 L352.3,273.5 L352.0,272.9 L351.2,274.1 L350.3,274.3 L351.7,272.7 L352.7,271.2 L349.7,273.6 L349.0,273.5 L349.0,271.2 L346.9,269.6 L343.8,270.0 L341.0,270.6 L338.7,271.4 L335.9,272.4 L332.4,273.6 L330.4,273.9 L329.3,273.0 L330.1,272.1 L331.0,270.2 L331.1,267.2 L331.3,263.5 L330.7,262.6 L331.6,259.8 L331.7,258.0 M354.4,280.9 L356.0,281.3 L357.9,281.1 L356.8,282.7 L355.1,284.0 L353.5,284.4 L353.9,282.7 L354.4,280.9 M386.4,273.2 L387.3,274.3 L387.3,277.0 L389.7,277.2 L387.8,279.0 L386.6,279.4 L384.2,281.6 L382.8,281.6 L384.3,280.4 L384.0,279.1 L385.6,277.6 L386.5,275.7 L386.4,273.2 M381.6,280.6 L382.1,282.1 L379.2,284.2 L376.7,285.5 L374.7,287.1 L372.5,288.0 L370.7,287.3 L371.9,286.2 L374.3,284.9 L378.0,283.2 L380.7,281.2 L381.6,280.6 M266.5,245.7 L267.5,250.0 L266.7,251.8 L265.0,256.1 L264.2,258.8 L263.3,261.4 L261.5,262.3 L260.0,261.3 L259.5,258.0 L260.8,255.5 L260.6,252.4 L263.1,250.4 L264.8,248.8 L266.5,245.7 M298.7,223.0 L298.8,221.0 L298.9,219.0 L300.2,220.6 L300.7,222.4 L300.2,223.4 L299.1,223.6 L298.7,223.0 M227.2,184.6 L230.3,184.1 L229.9,186.0 L227.2,184.6 M223.2,183.2 L224.4,183.1 L224.5,180.9 L222.9,180.9 L223.2,183.2 M223.3,180.3 L224.1,180.3 L224.1,178.4 L223.3,179.2 L223.3,180.3 M238.3,187.7 L241.1,187.9 L239.3,188.2 L238.3,187.7 M247.0,188.4 L248.7,188.1 L249.1,187.4 L247.7,187.7 L247.0,188.4 M384.1,255.8 L386.5,258.3 L386.1,258.2 L384.1,255.8 M398.6,252.4 L399.9,252.8 L399.3,253.4 L398.6,252.4 M54.4,206.1 L55.2,206.9 L54.0,207.7 L54.4,206.1" fill="none" stroke="#7a7a7a" stroke-width="1.45" stroke-linejoin="round" stroke-linecap="round"/><path d="M228.5,221.0 L230.0,218.5 L232.5,218.2 L234.0,219.5 L236.0,218.5 L238.0,220.0 L237.5,223.5 L235.0,225.5 L232.0,225.5 L229.5,224.0Z M241.5,222.0 L243.0,220.7 L245.0,221.5 L245.0,223.8 L242.5,224.3Z M274.2,231.2 L276.6,228.0 L284.6,225.6 L286.2,220.0 L287.0,211.2 L289.4,208.5 L295.0,207.5 L299.0,208.8 L298.5,212.0 L298.2,218.4 L297.4,222.4 L293.4,223.2 L287.0,227.2 L280.6,229.6 L275.8,232.0Z M298.2,210.4 L303.0,206.4 L309.4,204.0 L314.2,205.6 L319.0,209.6 L323.8,215.2 L328.6,217.6 L335.0,218.4 L340.0,216.0 L345.0,214.0 L350.0,217.0 L348.0,221.0 L341.0,221.5 L335.0,220.0 L327.0,220.8 L320.6,222.4 L314.2,224.0 L307.8,222.4 L303.0,218.4 L301.4,213.6Z M100.0,216.5 L104.0,213.5 L110.0,212.5 L116.0,213.0 L118.0,216.0 L113.0,218.2 L106.0,218.5 L101.0,218.0Z" fill="none" stroke="#ffffff" stroke-width="1.3" stroke-linejoin="round"/><path d="M94.8,213.0 L98.0,210.8 L102.0,209.4 L111.0,207.2 L120.0,205.8 L123.6,207.6 L127.2,210.3 L132.6,212.1 L139.8,214.8 L147.0,217.5 L152.4,222.0 L151.5,228.3 L147.0,231.0 L141.6,229.2 L134.4,224.7 L127.2,222.0 L120.0,219.3 L111.0,218.4 L102.0,218.4 L95.7,217.5Z M196.4,214.4 L201.4,214.6 L201.8,218.6 L198.8,219.4 L196.2,219.0Z M223.0,220.0 L226.0,216.5 L230.0,215.0 L235.0,215.0 L239.0,216.0 L243.0,216.0 L247.0,214.5 L251.0,213.5 L253.0,214.5 L252.0,219.0 L250.0,223.0 L247.0,227.0 L244.0,230.0 L241.0,231.5 L238.0,231.0 L235.0,229.0 L231.0,227.0 L227.0,224.5 L224.0,222.5Z M268.6,231.2 L271.0,226.4 L277.4,220.0 L283.8,213.6 L287.0,207.2 L291.8,204.0 L298.2,202.4 L306.2,200.0 L312.6,198.9 L319.0,199.2 L323.8,202.4 L330.2,204.0 L335.0,203.0 L340.0,198.5 L345.0,197.0 L349.0,198.0 L353.5,192.0 L355.0,196.0 L352.0,201.0 L346.0,203.5 L345.0,206.0 L352.0,208.0 L361.0,208.0 L366.0,212.0 L367.5,216.0 L366.0,221.0 L363.0,226.0 L361.0,229.0 L357.0,230.0 L350.0,228.0 L343.0,228.5 L335.0,232.8 L327.0,233.6 L319.0,235.2 L311.0,236.8 L303.0,237.6 L298.2,236.0 L293.4,233.6 L287.0,232.8 L279.0,233.6 L272.6,233.6Z M380.2,239.5 a4.3,4.3 0 1,0 8.6,0 a4.3,4.3 0 1,0 -8.6,0" fill="none" stroke="#6a7a9a" stroke-width="1.3" stroke-linejoin="round"/><path d="M32.0,217.2 L35.2,215.3 L39.2,214.8 L41.3,216.4 L40.8,220.4 L38.4,223.3 L34.4,224.4 L31.7,222.8 L31.2,219.6Z M24.0,238.3 L26.4,238.8 L28.5,239.6 L29.6,242.0 L28.8,244.4 L26.9,245.2 L24.0,245.5 M79.5,215.0 L81.5,211.5 L85.8,209.4 L93.0,207.6 L102.0,205.8 L111.0,204.0 L120.0,202.2 L127.2,201.3 L129.0,203.1 L131.5,202.6 L134.4,203.1 L138.5,206.0 L143.4,209.4 L148.0,212.0 L152.4,214.8 L157.8,219.3 L157.5,222.5 L156.9,225.6 L154.2,231.0 L151.5,233.0 L148.8,233.7 L145.0,233.2 L141.6,231.9 L134.4,228.3 L127.2,225.6 L120.0,222.9 L111.0,222.0 L102.0,221.6 L93.0,221.1 L84.0,220.2 L80.4,218.4Z M175.8,221.0 L176.6,217.4 L179.0,215.6 L182.0,215.4 L183.4,218.0 L183.2,221.6 L181.4,223.0 L177.8,223.0Z M191.6,219.2 L192.8,213.8 L196.4,210.6 L201.2,209.8 L205.4,212.0 L206.6,216.8 L205.4,221.0 L201.8,223.8 L197.0,224.6 L192.8,222.8Z M208.4,215.0 L210.8,211.4 L214.4,209.6 L218.0,209.8 L221.6,212.0 L227.0,212.5 L232.0,212.0 L235.0,211.5 L239.0,212.5 L244.0,212.5 L248.0,210.5 L252.0,209.0 L256.0,208.8 L258.5,211.0 L259.5,215.0 L259.0,219.0 L257.0,222.5 L253.0,226.0 L250.0,230.0 L247.0,233.0 L243.0,235.5 L239.0,236.5 L235.0,235.0 L232.0,232.0 L228.0,228.5 L224.0,226.0 L220.4,223.4 L215.6,221.6 L211.4,219.8 L209.0,217.4Z M263.8,229.6 L266.2,224.0 L271.0,218.4 L275.8,212.0 L280.6,206.4 L286.2,201.6 L291.8,198.4 L298.2,196.0 L304.6,194.4 L311.0,192.0 L317.4,188.8 L322.2,187.2 L327.0,186.4 L331.8,186.1 L337.0,186.5 L343.9,186.0 L349.1,184.8 L352.6,182.5 L356.1,181.3 L359.6,183.0 L362.2,186.5 L362.2,190.9 L360.4,196.1 L358.7,200.4 L361.3,204.8 L367.0,209.0 L373.0,212.0 L377.0,215.0 L381.0,217.0 L383.5,219.0 L384.5,222.0 L384.0,225.0 L382.5,226.5 L380.5,226.0 L379.5,227.5 L377.0,228.5 L375.5,229.0 L377.0,230.5 L381.0,231.5 L386.0,233.0 L390.0,235.0 L392.5,238.0 L393.0,242.0 L391.0,245.0 L387.0,247.0 L382.0,247.0 L377.0,244.5 L373.0,241.0 L370.0,238.0 L366.0,237.0 L361.0,236.0 L357.8,232.6 L350.9,230.9 L343.9,230.2 L337.0,232.5 L330.0,237.0 L322.2,240.0 L315.8,241.6 L309.4,243.7 L303.0,244.3 L298.2,243.2 L293.4,240.0 L287.0,238.4 L279.0,237.6 L271.0,236.0 L266.2,233.6Z M387.0,217.0 L390.0,215.8 L395.0,215.5 L399.0,216.5 L402.0,218.0 L405.0,219.0 L405.0,222.5 L400.5,223.5 L397.0,224.0 L394.0,225.0 L392.0,226.5 L390.0,226.0 L388.0,224.5 L386.8,222.0 L386.5,219.0Z" fill="none" stroke="#000" stroke-width="1.8" stroke-linejoin="round" stroke-linecap="round"/></g><path d="M51.1,170 L215.1,170 L379,170 L379,170 L380.2,171.2 L381.3,172.3 L382.3,173.5 L383.4,174.7 L384.4,175.9 L385.4,177.1 L386.4,178.4 L387.3,179.6 L388.3,180.8 L389.2,182 L390.1,183.2 L390.9,184.4 L391.7,185.7 L392.4,186.9 L393.2,188.1 L393.9,189.3 L394.6,190.6 L395.2,191.8 L395.8,193 L396.4,194.2 L397,195.5 L397.5,196.7 L398,197.9 L398.5,199.1 L398.9,200.4 L399.3,201.6 L399.7,202.8 L400,204 L400.3,205.3 L400.6,206.5 L401,207.7 L401.3,208.9 L401.6,210.2 L401.8,211.4 L402.1,212.6 L402.4,213.8 L402.6,215.1 L402.8,216.3 L403,217.5 L403.1,218.7 L403.3,220 L403.4,221.2 L403.5,222.4 L403.6,223.6 L403.7,224.9 L403.8,226.1 L403.9,227.3 L403.9,228.5 L404,229.8 L404,231 L404,232.2 L403.9,233.5 L403.9,234.7 L403.8,235.9 L403.7,237.1 L403.6,238.4 L403.5,239.6 L403.4,240.8 L403.3,242 L403.1,243.3 L403,244.5 L402.8,245.7 L402.6,246.9 L402.4,248.2 L402.1,249.4 L401.8,250.6 L401.6,251.8 L401.3,253.1 L401,254.3 L400.6,255.5 L400.3,256.7 L400,258 L399.7,259.2 L399.3,260.4 L398.9,261.6 L398.5,262.9 L398,264.1 L397.5,265.3 L397,266.5 L396.4,267.8 L395.8,269 L395.2,270.2 L394.6,271.4 L393.9,272.7 L393.2,273.9 L392.4,275.1 L391.7,276.3 L390.9,277.6 L390.1,278.8 L389.2,280 L388.3,281.2 L387.3,282.4 L386.4,283.6 L385.4,284.9 L384.4,286.1 L383.4,287.3 L382.3,288.5 L381.3,289.7 L380.2,290.8 L379,292 L379,292 L215.1,292 L51.1,292 L51.1,292 L49.9,290.8 L48.8,289.7 L47.8,288.5 L46.7,287.3 L45.7,286.1 L44.7,284.9 L43.7,283.6 L42.8,282.4 L41.8,281.2 L40.9,280 L40,278.8 L39.2,277.6 L38.4,276.3 L37.7,275.1 L36.9,273.9 L36.2,272.7 L35.5,271.4 L34.9,270.2 L34.3,269 L33.7,267.8 L33.1,266.5 L32.6,265.3 L32.1,264.1 L31.6,262.9 L31.2,261.6 L30.8,260.4 L30.4,259.2 L30.1,258 L29.8,256.7 L29.5,255.5 L29.1,254.3 L28.8,253.1 L28.5,251.8 L28.3,250.6 L28,249.4 L27.7,248.2 L27.5,246.9 L27.3,245.7 L27.1,244.5 L27,243.3 L26.8,242 L26.7,240.8 L26.6,239.6 L26.5,238.4 L26.4,237.1 L26.3,235.9 L26.2,234.7 L26.2,233.5 L26.1,232.2 L26.1,231 L26.1,229.8 L26.2,228.5 L26.2,227.3 L26.3,226.1 L26.4,224.9 L26.5,223.6 L26.6,222.4 L26.7,221.2 L26.8,220 L27,218.7 L27.1,217.5 L27.3,216.3 L27.5,215.1 L27.7,213.8 L28,212.6 L28.3,211.4 L28.5,210.2 L28.8,208.9 L29.1,207.7 L29.5,206.5 L29.8,205.3 L30.1,204 L30.4,202.8 L30.8,201.6 L31.2,200.4 L31.6,199.1 L32.1,197.9 L32.6,196.7 L33.1,195.5 L33.7,194.2 L34.3,193 L34.9,191.8 L35.5,190.6 L36.2,189.3 L36.9,188.1 L37.7,186.9 L38.4,185.7 L39.2,184.4 L40,183.2 L40.9,182 L41.8,180.8 L42.8,179.6 L43.7,178.4 L44.7,177.1 L45.7,175.9 L46.7,174.7 L47.8,173.5 L48.8,172.3 L49.9,171.2 L51.1,170Z" fill="none" stroke="#4a4a4a" stroke-width="1.1"/>
<rect x="46" y="167.5" width="16.8" height="13.2" fill="#fff"/>
<g clip-path="url(#cp2)"><path d="M51.1,323.3 L215.1,323.3 L379,323.3 L379,323.3 L380.2,324.5 L381.3,325.6 L382.3,326.8 L383.4,328 L384.4,329.2 L385.4,330.4 L386.4,331.7 L387.3,332.9 L388.3,334.1 L389.2,335.3 L390.1,336.5 L390.9,337.7 L391.7,339 L392.4,340.2 L393.2,341.4 L393.9,342.6 L394.6,343.9 L395.2,345.1 L395.8,346.3 L396.4,347.5 L397,348.8 L397.5,350 L398,351.2 L398.5,352.4 L398.9,353.7 L399.3,354.9 L399.7,356.1 L400,357.3 L400.3,358.6 L400.6,359.8 L401,361 L401.3,362.2 L401.6,363.5 L401.8,364.7 L402.1,365.9 L402.4,367.1 L402.6,368.4 L402.8,369.6 L403,370.8 L403.1,372 L403.3,373.3 L403.4,374.5 L403.5,375.7 L403.6,376.9 L403.7,378.2 L403.8,379.4 L403.9,380.6 L403.9,381.8 L404,383.1 L404,384.3 L404,385.5 L403.9,386.8 L403.9,388 L403.8,389.2 L403.7,390.4 L403.6,391.7 L403.5,392.9 L403.4,394.1 L403.3,395.3 L403.1,396.6 L403,397.8 L402.8,399 L402.6,400.2 L402.4,401.5 L402.1,402.7 L401.8,403.9 L401.6,405.1 L401.3,406.4 L401,407.6 L400.6,408.8 L400.3,410 L400,411.3 L399.7,412.5 L399.3,413.7 L398.9,414.9 L398.5,416.2 L398,417.4 L397.5,418.6 L397,419.8 L396.4,421.1 L395.8,422.3 L395.2,423.5 L394.6,424.7 L393.9,426 L393.2,427.2 L392.4,428.4 L391.7,429.6 L390.9,430.9 L390.1,432.1 L389.2,433.3 L388.3,434.5 L387.3,435.7 L386.4,436.9 L385.4,438.2 L384.4,439.4 L383.4,440.6 L382.3,441.8 L381.3,443 L380.2,444.1 L379,445.3 L379,445.3 L215.1,445.3 L51.1,445.3 L51.1,445.3 L49.9,444.1 L48.8,443 L47.8,441.8 L46.7,440.6 L45.7,439.4 L44.7,438.2 L43.7,436.9 L42.8,435.7 L41.8,434.5 L40.9,433.3 L40,432.1 L39.2,430.9 L38.4,429.6 L37.7,428.4 L36.9,427.2 L36.2,426 L35.5,424.7 L34.9,423.5 L34.3,422.3 L33.7,421.1 L33.1,419.8 L32.6,418.6 L32.1,417.4 L31.6,416.2 L31.2,414.9 L30.8,413.7 L30.4,412.5 L30.1,411.3 L29.8,410 L29.5,408.8 L29.1,407.6 L28.8,406.4 L28.5,405.1 L28.3,403.9 L28,402.7 L27.7,401.5 L27.5,400.2 L27.3,399 L27.1,397.8 L27,396.6 L26.8,395.3 L26.7,394.1 L26.6,392.9 L26.5,391.7 L26.4,390.4 L26.3,389.2 L26.2,388 L26.2,386.8 L26.1,385.5 L26.1,384.3 L26.1,383.1 L26.2,381.8 L26.2,380.6 L26.3,379.4 L26.4,378.2 L26.5,376.9 L26.6,375.7 L26.7,374.5 L26.8,373.3 L27,372 L27.1,370.8 L27.3,369.6 L27.5,368.4 L27.7,367.1 L28,365.9 L28.3,364.7 L28.5,363.5 L28.8,362.2 L29.1,361 L29.5,359.8 L29.8,358.6 L30.1,357.3 L30.4,356.1 L30.8,354.9 L31.2,353.7 L31.6,352.4 L32.1,351.2 L32.6,350 L33.1,348.8 L33.7,347.5 L34.3,346.3 L34.9,345.1 L35.5,343.9 L36.2,342.6 L36.9,341.4 L37.7,340.2 L38.4,339 L39.2,337.7 L40,336.5 L40.9,335.3 L41.8,334.1 L42.8,332.9 L43.7,331.7 L44.7,330.4 L45.7,329.2 L46.7,328 L47.8,326.8 L48.8,325.6 L49.9,324.5 L51.1,323.3Z" fill="#f7f6f6"/><path d="M262.7 352.8l4.3 -.4l65.5 .3l1.4 1.1l.6 1.5l.5 4.5l1.5 5l.6 5l2.4 5.5l-.1 4.5l-.9 1.5l-2 .9l-11.5 .1l-2.5 .6l-1.4 1.4l-4.1 6.6l-2 1.2l-31.5 .3l-19 -.1l-2.8 -.5l-1.6 -2l-.7 -5.5l-1.8 -4.5l-1.1 -1.6l-2 -.8l-20 .1l-1.5 .7l-2 2.7l-1.5 1.1l-14 .5l-1.6 .8l-2.4 3.1l-3 .8l-16 -.2l-1.6 -.7l-1.9 -2.6l-1.5 -1.1l-14.5 -.4l-2 -.9l-.9 -1.5l-.1 -4.5l.6 -1.5l1.1 -1l2.3 -.5l13 -.2l5.5 -3l5.5 -.4l6 -1.3l39.5 -.1l3 -.3l1.9 -1.7l3.6 -7.1l1.5 -.7l5.5 -.8zM101.4 362.8l2.6 -.4l11.5 0l4 1l1.4 .9l.6 1l-.9 4.5l.9 1.8l2 .6l8.5 .2l2 .5l4.4 5.4l.5 1.5l-.3 1l-2.1 1.3l-6.5 .5l-1.5 1.1l-2 2.7l-3 .8l-7 -1.5l-29.5 -.1l-2 -.6l-3.5 -2.5l-7 -.5l-2 -1.4l-.7 -2.3l.1 -4l1.1 -8l1.5 -1.9l3 -.5l19.5 -.1z" fill="#cae1ee" fill-rule="evenodd"/><path d="M277.0 362.3l4 .1l2 .5l3 3.5l3 1.5l1.2 1.4l2 11l-1.6 4.5l-1.6 1.9l-3 .5l-9 -.3l-1.1 -.6l-2.3 -3l-2.6 -1.9l-.8 -1.1l-2.7 -9l.1 -2.5l2.5 -4.5l1.4 -1.4l1.5 -.5zM90.7 368.8l.8 -.4l1 .2l3 3.2l4.5 1.3l.7 1.2l-.2 1.6l-1 .9l-2 .4l-6 0l-2 -.6l-.9 -1.3l-.1 -1.5l1 -3.1z" fill="#81bad8" fill-rule="evenodd"/><path d="M61.8 320.8l84 0l-.1 4l-.7 2.7l-5 2.8l-3.4 6.5l-2.2 3l-1.4 1.1l-2.5 .4l-9.5 -.1l-1 -.4l-2 -2.8l-2 -.6l-5 0l-2 .9l-.9 1.5l-.3 2.5l.3 2.5l.9 1.5l1.5 .8l2.5 .2l2.5 -.3l2.5 -1.3l1 .6l.6 3l.1 5l0 2l-.7 .8l-16.5 .3l-1.5 .6l-3 2.2l-2 .5l-20 0l-7 1.5l-21 .2l-2 .8l-3.1 3.6l-6.4 1.1l-2.9 3.4l-1.1 .7l-12.5 .4l0 -15.1l7.5 -.3l1.1 -.7l2.9 -3.4l8 -.9l1.5 -1.1l2 -2.7l1.5 -.7l15 -.6l1.4 -1.1l1.6 -3.2l1.5 -1l21 -.5l1.9 -.8l2.7 -2.5l5.4 -.8l1.6 -1.2l.2 -1.5l-.8 -1.2l-6.5 -4.1l-23.5 -.2l-2.5 -.5l-1.5 -2zM155.8 320.8l30 0l-.2 5l-.9 2l-2.2 .9l-24 -.1l-1.5 -.6l-.9 -1.2zM195.8 320.8l19 0l0 4.5l.6 2l1.6 1.2l2.5 .3l7.5 0l2.5 -.8l1.1 -2.2l.2 -5l6 0l.2 5l1 1.2l1.5 .3l2 -.5l.8 -1l.4 -5l155.1 0l-.1 3.5l-.3 3l-1.4 2.5l-5 6.1l-2 1.2l-51 .3l-2 .8l-2.1 2.1l-2.9 1.8l-2.5 4.2l-2.5 .9l-83 .2l-2 .8l-2.4 3.1l-1.6 .8l-15 .5l-1.5 1.1l-2 2.7l-2.6 1.9l-2.9 3.4l-2 .5l-8.5 .2l-1.5 .6l-2.5 2l-2 .6l-7.2 .2l-2.8 -2.6l-2 -.8l-10 -.1l-3 .6l-3 3.5l-2.5 .8l-38 0l-2.2 -.9l-2 -4l-2.8 -3l-.1 -1.5l2.1 -.4l34 -.3l2 -1.4l1.1 -5.9l.9 -1.5l1 -.6l23.5 -.4l2.3 -.5l1.6 -2l1.2 -6l3.9 -2.5l.9 -1.5zM300.5 334.3l-1.2 1.5l-.3 3l.5 2.7l1.5 2l2 .7l5.5 0l2 -.7l1 -1l.6 -1.7l0 -2.5l-.6 -2.4l-1 -1.4l-2.5 -.6zM366.7 357.8l3.3 -.5l40 0l0 20l-18 -.3l-1.5 -1.1l-2 -2.7l-2.6 -1.9l-2.4 -3.1l-2 -.8l-3 0l-2 .5l-2.9 3.4l-1.1 .7l-3 .3l-2.5 -.4l-1.7 -1.6l-.5 -3.5l.2 -6.5l.6 -1.5zM20.0 377.3l7 .2l1.4 .8l.5 1l.2 1.5l-1.7 9l-.9 1.5l-1 .7l-5.5 .3zM41.6 382.8l2.9 -.5l12.5 .2l1.6 .8l2.4 3.1l2.5 .8l16.5 .2l7 1.5l29.5 .1l2 .6l3 2.3l2 .4l100.5 .1l2.5 .9l2.5 4.2l3 .8l108.5 0l3 -.8l2.5 -4.2l2.5 -.9l61.5 -.1l0 55.5l-320.2 0l-.1 -6.5l-.8 -2.5l-.9 -.9l-3 -1.4l-2.5 -2.1l-3.5 -.6l-32 .1l-1.5 .4l-1 .8l-1.2 4.7l-1.8 1.7l-21.5 .3l0 -43.5l12 0l2.5 -.8l1 -1.7l.4 -5l.6 -2z" fill="#fcd5bf" fill-rule="evenodd"/><path d="M243.9 329.3l4.1 -.5l46 0l3.9 .5l.9 1l-1.8 3.5l-.9 6l-1.6 1.3l-50 .2l-2.5 -.3l-1.4 -.7l-4.5 -4l-.7 -2l.5 -2l1.2 -1.5zM312.6 329.3l3.4 -.5l10 .2l2 .8l.4 1.5l-4.4 8.9l-2 .9l-4.5 .1l-1.5 -.5l-.9 -1.4l-1.5 -5.5l-1.9 -3.5zM79.2 396.3l2.8 -.5l14 0l2.5 .7l3 2.2l9 -.4l3 .3l1.8 1.7l.8 6l.5 1l.9 .6l1.5 -.6l1.5 -3.4l1 -1l2.5 -.6l3.5 .3l1.5 1l1.1 1.7l1.4 6.1l1 1.6l.8 -2.7l-.7 -6l.4 -4.5l1 -2.4l1.9 -1.1l2.1 .1l1.5 .7l3 3.8l1.5 1.1l18.5 .4l1.5 .4l2.5 2.4l1.5 .7l1.5 -.4l2.5 -2.3l1.5 -.7l9.5 -.4l1.5 -.7l2 -2l1.5 -.8l7.5 -.2l2.2 .9l1 2l.2 12l-.8 2l-1.1 1l-5 .8l-1.5 1.2l-.6 2l-.5 7l-.9 1.2l-1.5 .6l-5.5 -.2l-1.4 -1.1l-1.3 -2l-.5 -1.5l.3 -1.5l.9 -1l3.2 -1.5l1 -3l-.3 -2l-.9 -1.6l-1.5 -.7l-2 -.2l-5.5 .5l-1.3 1.5l-.7 4l-1 1.7l-3.5 1.6l-2.9 3.2l-6.6 2.3l-4 .4l-4.5 1.2l-10 -.2l-1.3 -.7l-.6 -1l-1.2 -5l-2.9 -2.3l-.6 .8l-1.8 6l-1.1 1.4l-1.5 .8l-4 .3l-2.6 -.5l-1.3 -1.5l-.6 -3.5l-.8 -1.5l-5.2 -2.1l-1 .6l-1 4.6l-1 1.6l-2 .7l-4.5 0l-2 -.7l-.9 -1.2l-.2 -6l1.1 -2.1l3.9 -1.4l1.1 -1l.7 -2.5l0 -6l-.3 -2l-.9 -1.6l-1.5 -.8l-3 -.4l-1 .3l-2 2.8l-1.5 .9l-7 .5l-3.1 .8l-.2 .5l1.8 1.8l1.1 2.7l.6 3.5l-.2 4l-.8 3.5l-.9 1.5l-1.8 .8l-2.5 0l-1.5 -.6l-1 -1.2l-1.2 -6.5l1.1 -6.5l2.4 -3l-1.3 -.9l-4.6 -1.1l-1 -1l-.5 -1.5l.4 -4.5l.7 -1.5zM203.6 402.8l2.4 -.5l13 0l4 .6l1 1l1.2 3.4l2.3 3.1l2.7 5.4l.9 2.5l-.2 1.5l-1.4 1.2l-2 .3l-21 0l-3 -.5l-1.1 -1l-.6 -2l-.4 -9l.5 -4zM32.8 406.3l33.7 .1l7.5 2.8l1 .9l.5 1.2l.2 6l-2.3 8.5l-.9 1.2l-1.5 .6l-8.5 .3l-6 1.3l-31 .1l-5.5 -1.1l0 -16l5.6 -.4l.4 -.5l-.7 -2l1.3 -2l1.9 -.8zM272.5 408.8l137.5 -.1l0 19.1l-106.5 0l-2.7 -1l-1.7 -4l-1.1 -1l-4.5 -.5l-9.5 .1l-2.4 .4l-1.2 1l-1.4 3.7l-2 1.1l-23.5 .2l-2.7 -1l-2.1 -4.5l-2.7 -1.7l-2.5 -3l-2.5 -1.7l-1 -2.1l.4 -3.5l2.1 -1.3z" fill="#ee9677" fill-rule="evenodd"/><path d="M33.7 413.3l4.3 -.4l2.5 .9l.6 1.5l0 1.5l-.6 2.4l-1 1.3l-1.5 .6l-3 .1l-1.5 -.4l-1 -.9l-.6 -1.6l.1 -2.5l.6 -1.5zM282.5 413.3l4.5 0l1.3 1l0 1l-1.8 1.1l-4 -.1l-1 -.5l-.4 -1l.5 -1zM321.7 413.3l4.3 -.4l2.6 .9l.7 1l.4 2l-.2 2l-.8 1.5l-1.2 .7l-2.5 .3l-2.5 -.2l-1.7 -.8l-.8 -1.5l-.1 -2.5l.6 -2zM339.7 413.3l2.8 -.4l17.5 .1l2.3 .8l.5 2l-1.3 3.6l-2 1.6l-18.5 .2l-2.2 -.9l-.9 -2l.3 -3.5zM370.7 413.3l3.3 -.4l36 0l0 8.4l-38.5 -.2l-2 -1.2l-.6 -2.1l.3 -3z" fill="#c94741" fill-rule="evenodd"/><path d="M40.9,433.3 L389.2,433.3 M29.5,408.8 L400.6,408.8 M26.1,384.3 L404,384.3 M29.5,359.8 L400.6,359.8 M40.9,335.3 L389.2,335.3 M133.1,323.3 L131.7,326.2 L130.4,329.2 L129.1,332.3 L128,335.3 L126.9,338.3 L126,341.4 L125.1,344.5 L124.4,347.5 L123.7,350.6 L123.1,353.7 L122.7,356.7 L122.3,359.8 L121.9,362.9 L121.5,365.9 L121.2,369 L121,372 L120.8,375.1 L120.7,378.2 L120.6,381.2 L120.6,384.3 L120.6,387.4 L120.7,390.4 L120.8,393.5 L121,396.6 L121.2,399.6 L121.5,402.7 L121.9,405.7 L122.3,408.8 L122.7,411.9 L123.1,414.9 L123.7,418 L124.4,421.1 L125.1,424.1 L126,427.2 L126.9,430.3 L128,433.3 L129.1,436.3 L130.4,439.4 L131.7,442.4 L133.1,445.3 M215.1,323.3 L215.1,326.2 L215.1,329.2 L215.1,332.3 L215.1,335.3 L215.1,338.3 L215.1,341.4 L215.1,344.5 L215.1,347.5 L215.1,350.6 L215.1,353.7 L215.1,356.7 L215.1,359.8 L215.1,362.9 L215.1,365.9 L215.1,369 L215.1,372 L215.1,375.1 L215.1,378.2 L215.1,381.2 L215.1,384.3 L215.1,387.4 L215.1,390.4 L215.1,393.5 L215.1,396.6 L215.1,399.6 L215.1,402.7 L215.1,405.7 L215.1,408.8 L215.1,411.9 L215.1,414.9 L215.1,418 L215.1,421.1 L215.1,424.1 L215.1,427.2 L215.1,430.3 L215.1,433.3 L215.1,436.3 L215.1,439.4 L215.1,442.4 L215.1,445.3 M297,323.3 L298.4,326.2 L299.7,329.2 L301,332.3 L302.1,335.3 L303.2,338.3 L304.1,341.4 L305,344.5 L305.7,347.5 L306.4,350.6 L307,353.7 L307.4,356.7 L307.8,359.8 L308.2,362.9 L308.6,365.9 L308.9,369 L309.1,372 L309.3,375.1 L309.4,378.2 L309.5,381.2 L309.5,384.3 L309.5,387.4 L309.4,390.4 L309.3,393.5 L309.1,396.6 L308.9,399.6 L308.6,402.7 L308.2,405.7 L307.8,408.8 L307.4,411.9 L307,414.9 L306.4,418 L305.7,421.1 L305,424.1 L304.1,427.2 L303.2,430.3 L302.1,433.3 L301,436.3 L299.7,439.4 L298.4,442.4 L297,445.3" fill="none" stroke="#8c8c8c" stroke-opacity="0.85" stroke-width="1" stroke-dasharray="4.6,2.4"/><path d="M373.0,387.5 L374.5,388.3 L375.7,389.9 L375.2,390.2 L373.9,388.7 L373.0,387.5 M377.1,390.4 L378.4,391.9 L377.9,392.8 L377.0,391.5 L377.1,390.4 M379.0,392.5 L379.9,393.2 L382.2,394.7 L381.9,395.1 L379.6,393.9 L379.0,392.5 M382.1,395.6 L383.3,396.2 L383.2,396.7 L382.0,396.1 L382.1,395.6 M383.3,394.6 L383.9,395.7 L383.6,395.9 L383.0,395.1 L383.3,394.6 M388.2,402.7 L388.7,403.4 L388.7,404.6 L389.3,406.0 L389.2,407.3 L389.6,408.2 M368.9,386.8 L369.7,386.9 L369.3,387.1 L368.9,386.8 M97.4,320.9 L98.8,322.7 L99.9,324.5 L100.2,325.2 L99.6,327.0 L97.7,330.4 L96.1,332.6 L95.1,334.8 L94.7,336.5 L95.3,338.0 L95.2,339.4 L95.5,341.9 L97.3,342.6 L98.0,344.2 L98.2,345.7 L98.5,347.2 L99.1,349.4 L99.2,350.8 L100.4,352.4 L101.2,354.3 L102.3,356.2 L103.0,355.5 L102.2,354.5 L101.7,352.4 L101.1,350.2 L100.6,348.4 L100.1,345.5 L101.2,345.9 L101.8,348.1 L102.7,350.2 L103.7,352.2 L104.7,353.7 L105.9,355.5 L106.6,357.6 L106.4,359.2 L107.3,360.9 L109.0,362.2 L110.9,363.2 L112.9,364.3 L114.9,365.1 L116.8,364.4 L118.0,364.9 L119.2,366.5 L120.3,367.3 L121.9,367.8 L123.6,368.1 L124.1,368.5 L124.8,369.5 L125.6,370.7 L125.4,371.8 L125.9,372.2 L126.5,372.4 L127.6,373.9 L128.6,374.3 L129.8,374.7 L130.9,375.4 L131.1,374.6 L131.8,373.5 L133.0,374.1 L133.4,375.1 L133.9,376.1 L133.9,377.6 L134.0,379.4 L132.7,381.2 L132.1,382.5 L131.1,383.3 L131.0,385.2 L130.1,386.1 L130.8,387.5 L131.2,388.3 L129.9,389.8 L130.1,391.5 L131.5,393.1 L133.0,395.7 L134.5,398.8 L135.6,400.8 L136.9,403.1 L139.4,404.8 L141.2,406.1 L142.4,406.8 L142.9,410.4 L142.8,413.2 L143.2,416.7 L142.9,419.6 L143.2,422.3 L143.5,424.7 L143.6,427.6 L143.3,429.9 L143.6,432.1 L144.2,435.1 L144.9,436.1 L145.0,438.2 L145.1,440.3 L144.8,441.8 L146.0,443.9 L146.4,445.9 L148.0,448.3 M131.8,372.5 L133.0,372.8 L134.2,373.8 L134.9,373.5 L135.9,372.7 L136.2,371.3 L137.6,370.5 L138.9,370.0 L140.0,369.1 L140.7,369.8 L140.0,370.5 L140.3,371.4 L140.9,370.7 L142.0,370.1 L143.7,371.1 L145.9,371.3 L147.9,371.4 L149.6,371.3 L150.4,371.8 L151.3,372.9 L152.1,373.9 L153.3,374.5 L154.3,376.0 L155.8,377.1 L157.4,376.9 L159.0,377.4 L160.5,378.7 L161.4,379.2 L161.9,381.5 L162.6,382.2 L162.3,383.7 L163.6,384.5 L164.4,385.6 L165.7,385.2 L167.5,386.1 L168.6,387.4 L170.5,387.7 L172.2,387.9 L173.9,388.6 L175.7,390.1 L177.8,390.7 L178.5,392.6 L178.5,394.3 L177.9,395.9 L176.6,397.4 L175.4,399.6 L174.6,401.2 L174.6,403.9 L174.4,406.1 L174.0,408.3 L173.2,411.0 L172.1,412.4 L170.4,412.5 L168.7,413.3 L167.0,414.3 L165.5,416.3 L165.7,419.0 L165.0,420.3 L164.2,422.3 L163.2,423.5 L162.7,425.4 L162.0,426.5 L160.7,427.2 L159.4,427.1 L157.9,426.6 L157.1,426.3 L158.5,427.8 L159.2,428.9 L158.9,430.7 L157.6,431.6 L155.5,432.1 L154.4,431.8 L154.9,433.5 L154.5,434.6 L152.6,434.3 L152.8,435.7 L153.6,436.3 L154.3,436.7 L153.4,437.5 L153.6,439.4 L152.3,439.4 L152.0,441.0 L153.6,442.1 L154.2,442.8 L153.4,443.8 L153.2,445.2 L152.8,445.9 L152.8,447.2 L153.8,448.1 M154.7,322.7 L156.4,323.0 L156.1,324.5 L154.9,325.2 L155.3,326.1 L154.8,327.1 L155.2,327.9 L157.0,328.2 L157.8,328.8 L158.7,327.9 L157.6,328.6 L155.2,329.6 L153.5,330.9 L152.6,330.6 L152.9,329.1 L151.8,329.6 L150.1,330.0 L148.6,330.8 L147.6,331.9 L147.3,333.1 L148.0,333.1 L147.4,333.5 L146.1,333.7 L144.0,334.3 L143.6,334.8 L143.1,335.9 L142.2,336.6 L141.4,337.3 L140.5,339.0 L140.3,340.8 L139.3,341.8 L137.6,342.8 L136.1,343.6 L134.2,344.8 L133.2,346.8 L133.2,348.5 L133.5,349.7 L133.5,351.7 L133.0,353.4 L132.3,353.4 L131.7,352.2 L131.2,350.5 L131.4,348.6 L130.3,347.4 L128.9,347.9 L128.0,347.0 L126.5,346.9 L124.8,347.3 L125.0,348.4 L123.6,348.6 L121.9,348.0 L120.2,347.9 L118.8,348.8 L116.9,349.9 L116.0,351.3 L115.6,352.7 L115.1,354.6 L114.6,357.0 L114.9,358.8 L115.7,360.8 L117.1,362.0 L118.9,361.8 L120.4,361.6 L121.5,360.4 L122.0,358.6 L123.8,358.1 L125.5,358.0 L125.1,359.5 L124.3,361.5 L123.6,363.2 L123.4,364.8 L124.1,364.9 L125.7,364.8 L126.9,364.8 L128.4,365.7 L128.5,366.8 L127.9,368.6 L127.7,370.2 L128.0,371.3 L128.8,372.5 L129.8,373.5 L130.9,373.1 L131.8,372.5 M127.8,357.5 L129.4,356.2 L131.0,355.9 L132.7,356.0 L134.4,357.0 L135.7,357.8 L137.1,358.4 L138.6,359.4 L137.8,359.9 L135.3,359.9 L135.1,359.1 L134.2,357.8 L132.6,357.6 L131.0,357.1 L130.2,357.3 L128.7,357.6 L127.8,357.5 M138.1,361.8 L140.0,359.9 L141.6,359.9 L142.9,360.3 L144.4,361.5 L143.2,361.9 L141.4,362.6 L139.8,362.1 L138.1,361.8 M134.1,361.8 L135.8,361.6 L136.2,362.4 L134.8,362.5 L134.1,361.8 M145.6,361.6 L147.2,361.8 L147.0,362.2 L145.5,362.2 L145.6,361.6 M135.5,351.6 L136.7,351.7 L136.2,352.6 L135.5,351.6 M135.2,353.4 L135.6,354.6 L135.3,354.5 L135.2,353.4 M160.0,326.1 L163.2,326.1 L165.1,326.8 L166.3,326.1 L166.1,324.1 L164.4,323.5 L163.9,321.7 L164.9,321.4 L162.9,322.6 L160.6,325.0 L160.0,326.1 M98.7,322.3 L99.7,322.8 L100.1,324.2 L101.4,325.2 L100.3,324.9 L98.8,323.6 L98.7,322.3 M216.5,322.2 L215.5,323.3 L214.1,324.0 L213.6,323.6 L213.3,324.8 L210.8,324.9 L211.1,325.9 L212.5,326.4 L213.2,327.0 L213.9,328.0 L213.9,329.7 L213.6,331.2 L211.6,331.1 L209.4,330.9 L207.5,330.8 L206.2,331.7 L206.5,333.5 L206.5,335.1 L205.8,336.9 L206.5,337.5 L206.3,339.0 L207.7,338.7 L208.7,339.1 L209.1,340.1 L209.7,340.1 L210.6,339.3 L213.0,339.3 L214.4,338.2 L215.2,336.8 L214.8,335.9 L215.9,334.1 L218.1,333.0 L218.0,331.5 L219.4,331.2 L221.2,331.5 L222.2,330.7 L223.4,330.0 L224.7,330.6 L225.1,331.8 L226.8,333.4 L228.5,334.3 L230.1,335.3 L230.5,336.9 L230.4,337.9 L230.8,337.7 L231.2,336.6 L231.6,336.0 L231.4,334.8 L232.9,335.4 L232.7,334.6 L231.5,334.0 L230.4,333.0 L228.7,332.4 L228.0,330.9 L226.7,329.8 L226.7,328.8 L227.9,328.4 L228.1,329.5 L229.4,330.2 L230.7,331.2 L232.7,332.4 L233.6,333.1 L233.8,334.9 L234.6,335.8 L235.5,337.4 L236.3,339.2 L237.2,339.7 L237.7,339.1 L237.5,338.2 L238.5,338.1 L237.5,337.0 L237.0,336.2 L237.1,334.8 L238.3,335.2 L238.6,334.2 L240.1,334.3 L240.5,334.9 L241.5,334.2 L242.9,334.0 L241.9,333.0 L241.4,332.1 L242.2,331.1 L242.2,330.1 L242.9,329.0 L243.6,327.9 L244.6,327.4 L246.4,328.0 L245.6,328.8 L246.8,329.8 L248.4,329.1 L249.3,328.9 L250.5,326.7 L251.5,326.8 L250.7,327.7 L250.4,329.6 L252.5,331.1 L254.9,333.4 L253.6,334.2 L250.6,333.8 L248.6,332.9 L246.6,332.9 L245.1,334.0 L243.2,334.1 L241.6,334.8 L240.5,335.3 L240.4,336.0 L241.2,337.1 L241.7,338.5 L242.5,339.2 L244.2,339.9 L245.1,339.3 L246.5,339.6 L248.5,339.8 L250.6,339.3 L250.5,341.0 L250.3,342.6 L250.1,343.9 L249.7,345.2 L249.4,345.9 L248.2,346.2 L247.4,345.9 L245.1,345.8 L244.2,346.4 L242.1,345.9 L240.1,345.6 L238.2,344.8 L236.0,344.1 L235.2,345.1 L235.1,346.3 L234.2,347.2 L232.1,346.2 L230.4,344.8 L228.0,344.0 L226.1,343.5 L225.2,342.6 L226.0,341.2 L225.3,339.3 L224.4,338.6 L222.4,339.0 L220.0,339.2 L218.0,339.2 L216.0,339.6 L213.6,341.2 L212.9,341.3 L209.8,340.3 L208.9,341.0 L208.2,342.6 L206.5,343.5 L205.7,344.7 L205.2,346.1 L205.4,347.5 L204.4,348.8 L202.9,349.9 L201.7,350.6 L200.3,352.2 L199.2,354.3 L198.3,355.5 L197.6,358.2 L198.0,360.3 L198.4,362.2 L197.9,364.6 L197.3,366.3 L197.7,367.6 L197.5,369.1 L198.9,370.2 L199.7,371.2 L201.0,372.9 L201.5,374.7 L203.1,376.0 L205.1,377.8 L207.2,378.9 L209.8,378.0 L213.0,378.4 L215.1,377.4 L216.6,376.7 L218.2,376.6 L219.8,376.6 L220.8,377.9 L221.7,379.0 L222.9,378.8 L224.0,378.7 L224.7,379.5 L225.3,381.2 L225.1,383.1 L224.8,384.7 L224.5,385.3 L225.5,387.7 L226.7,389.1 L227.6,390.4 L227.9,391.8 L228.5,393.4 L228.9,395.1 L228.6,396.6 L229.3,398.1 L229.0,399.7 L228.1,401.5 L227.7,402.9 L227.2,405.1 L227.9,407.5 L228.8,409.9 L229.8,412.4 L229.9,414.7 L230.3,416.8 L230.8,418.1 L231.6,419.3 L232.4,421.1 L233.1,423.3 L233.2,424.5 L233.3,426.2 L234.7,426.9 L236.9,426.2 L238.9,426.1 L240.5,426.0 L241.9,425.4 L243.5,424.1 L245.2,422.7 L246.3,420.5 L247.8,419.2 L248.6,416.4 L248.4,416.0 L249.2,415.4 L251.4,413.7 L251.3,411.9 L251.3,410.3 L250.8,409.4 L251.4,408.2 L252.8,407.3 L254.4,405.5 L256.0,404.5 L257.4,402.1 L257.3,399.0 L257.3,397.2 L256.2,394.7 L256.4,392.3 L255.7,391.4 L256.1,390.1 L257.2,387.6 L258.6,386.4 L259.7,384.9 L260.8,383.4 L263.3,381.5 L265.4,378.8 L266.9,375.7 L268.1,372.0 L268.5,369.8 L266.7,370.6 L265.2,370.6 L262.0,371.4 L260.4,370.2 L260.1,368.9 L259.3,368.4 L257.9,366.5 L256.1,365.3 L254.9,362.2 L253.3,358.6 L252.8,356.7 L251.4,355.1 L250.2,352.4 L249.0,350.2 L247.9,347.7 L247.5,346.1 M247.9,347.7 L248.8,349.4 L249.8,350.2 L250.1,348.8 L250.3,348.1 L250.7,350.0 L252.4,352.6 L253.9,354.9 L255.2,357.3 L256.5,359.5 L257.9,362.5 L259.2,364.4 L259.5,366.2 L260.2,368.7 L261.4,368.7 L263.5,367.9 L265.5,367.1 L267.5,365.9 L269.2,364.8 L271.2,363.5 L272.5,362.5 L273.5,361.6 L274.7,361.0 L275.4,359.2 L276.4,356.7 L275.3,355.4 L273.4,354.9 L272.7,353.8 L272.4,352.1 L271.7,353.0 L270.8,354.5 L268.3,354.9 L267.7,354.4 L267.7,353.0 L267.3,352.3 L266.9,353.7 L266.2,352.2 L265.3,351.0 L264.1,349.4 L263.4,347.7 L264.2,347.4 L265.6,347.5 L266.6,349.0 L268.3,350.6 L270.5,351.7 L272.4,351.1 L273.5,352.6 L275.8,353.2 L277.9,353.4 L280.4,353.3 L282.9,353.2 L283.8,353.9 L285.2,355.5 L286.7,356.7 L287.6,358.8 L289.7,358.2 L290.2,361.0 L291.2,364.7 L292.6,367.3 L293.6,370.2 L294.8,372.7 L296.1,374.4 L296.8,373.3 L297.9,371.7 L298.3,370.0 L298.7,367.8 L298.3,365.3 L299.6,364.2 L301.3,362.6 L303.0,360.4 L304.5,358.6 L305.7,357.7 L306.6,357.6 L308.1,356.7 L309.3,357.0 L310.1,358.9 L311.5,360.4 L312.6,362.2 L312.8,364.7 L314.1,365.1 L315.6,363.6 L316.4,364.7 L317.3,367.8 L317.8,369.6 L318.1,372.0 L317.9,374.1 L320.0,376.3 L320.3,378.2 L321.0,380.6 L323.6,382.7 L324.4,382.6 L323.5,379.0 L322.2,376.7 L320.3,375.2 L319.5,373.0 L318.7,371.7 L319.3,369.0 L319.7,367.8 L320.3,368.7 L321.9,369.3 L322.6,370.8 L324.2,371.6 L324.9,373.8 L326.6,372.5 L327.5,371.1 L329.0,370.0 L328.8,368.4 L328.1,365.7 L326.2,363.7 L324.3,361.3 L324.8,359.3 L326.0,358.0 L327.7,357.8 L328.9,359.4 L329.7,358.0 L331.6,357.0 L334.0,356.2 L335.4,355.4 L337.0,353.0 L337.4,350.8 L337.9,347.7 L337.5,346.4 L335.8,344.5 L334.4,342.3 L333.0,341.4 L333.8,340.1 L335.3,339.1 L334.0,338.3 L331.7,338.7 L330.6,337.4 L329.5,336.5 L330.5,335.5 L331.6,334.3 L333.0,335.3 L333.0,336.8 L333.7,336.0 L335.4,335.4 L337.4,337.7 L339.3,339.6 L340.3,341.9 L341.3,341.7 L342.8,341.0 L342.1,339.2 L340.3,337.1 L338.6,335.7 L339.9,334.2 L339.9,332.5 L341.0,331.4 L343.4,330.7 L343.9,327.4 L344.2,325.0 L342.1,322.1 M261.2,327.4 L262.9,326.8 L264.4,327.1 L264.9,329.0 L263.5,329.8 L265.1,331.9 L267.0,334.1 L266.3,335.3 L267.9,338.7 L265.6,339.2 L263.2,338.3 L262.9,335.1 L261.8,333.1 L260.3,331.7 L259.6,328.6 L261.2,327.4 M209.9,323.3 L211.9,322.8 L214.1,322.4 L216.0,322.2 L216.4,321.7 L215.5,321.1 L216.6,320.1 L215.5,319.7 L214.9,318.6 M212.4,319.4 L210.9,320.0 L211.5,320.9 L210.4,321.3 L211.9,321.6 L211.0,322.0 L209.9,323.3 M209.7,320.9 L209.2,320.7 L207.4,321.4 L205.8,321.1 L206.6,319.7 L206.2,318.6 M345.1,342.6 L346.3,342.9 L347.6,342.4 L349.4,342.9 L350.2,343.2 L350.8,342.3 L352.5,341.8 L353.4,341.4 L354.0,340.7 L353.3,339.0 L353.1,337.4 L352.8,335.9 L350.9,333.6 L350.1,334.4 L350.8,336.3 L350.9,337.9 L349.2,338.8 L349.2,340.8 L346.4,340.8 L345.0,342.1 L345.1,342.6 M344.2,343.5 L345.7,345.9 L346.3,346.3 L346.8,345.8 L346.5,344.0 L345.2,342.8 L344.2,343.5 M347.0,343.5 L348.0,343.9 L349.0,342.9 L348.3,342.3 L346.9,342.8 L347.0,343.5 M349.4,333.5 L350.4,333.1 L352.1,332.9 L353.3,331.3 L352.3,330.1 L348.1,328.6 L349.4,331.3 L348.5,331.5 L349.4,333.5 M347.8,328.0 L348.8,327.4 L346.0,324.5 L344.6,322.1 L343.7,322.1 L346.2,325.6 L347.8,328.0 M338.2,356.1 L338.6,353.4 L339.6,353.8 L339.5,356.7 L339.1,357.3 L338.2,356.1 M327.2,360.8 L328.4,359.7 L329.6,360.2 L329.3,361.6 L328.3,362.0 L327.2,360.8 M339.7,361.6 L341.4,361.6 L341.8,363.5 L341.3,364.8 L341.6,366.9 L344.2,368.4 L343.7,367.4 L342.6,367.3 L341.0,367.6 L340.5,366.5 L339.6,364.7 L339.7,361.6 M342.8,375.7 L344.2,373.6 L346.2,372.5 L347.5,375.1 L346.6,377.2 L345.5,376.9 L342.8,375.7 M342.3,369.8 L343.8,371.1 L344.5,370.5 L345.5,370.8 L345.9,369.0 L344.6,369.0 L342.3,369.8 M337.7,374.0 L339.9,370.5 L339.6,370.5 L337.4,373.8 L337.7,374.0 M329.4,382.5 L330.1,381.8 L331.5,382.2 L334.1,380.0 L336.1,377.8 L337.5,375.7 L339.2,377.4 L340.0,377.9 L338.8,379.0 L338.7,382.1 L340.0,383.2 L338.4,384.3 L337.3,386.1 L337.2,388.6 L335.1,389.1 L332.2,388.2 L330.7,387.9 L330.5,385.8 L330.0,383.7 L329.4,382.5 M314.9,377.4 L317.2,377.9 L320.3,381.2 L323.9,384.3 L324.7,386.1 L326.2,388.0 L325.9,391.4 L324.5,391.5 L322.3,389.2 L320.5,386.1 L319.0,383.7 L317.9,381.5 L314.9,377.4 M325.2,392.6 L326.6,391.7 L328.5,391.9 L330.8,392.8 L333.0,392.8 L334.9,393.7 L334.7,395.0 L331.2,394.3 L328.6,393.9 L326.5,393.4 L325.2,392.6 M335.4,394.2 L336.9,394.5 L339.6,394.5 L342.7,394.3 L343.7,394.6 L342.6,395.1 L339.5,395.2 L336.9,395.2 L335.4,394.2 M344.2,396.9 L345.2,395.7 L345.9,394.8 L348.2,394.6 L346.2,395.8 L344.6,396.8 L344.2,396.9 M340.2,391.0 L340.4,388.6 L339.7,387.7 L340.8,384.3 L341.1,383.3 L342.0,382.7 L344.1,383.2 L345.7,382.3 L346.4,382.5 L345.2,383.8 L342.6,383.7 L341.5,385.3 L342.7,385.5 L344.2,385.3 L342.8,386.5 L343.5,388.3 L343.7,389.9 L342.4,390.1 L342.3,388.0 L341.5,388.0 L341.1,391.0 L340.2,391.0 M348.8,381.8 L350.1,382.5 L349.4,383.3 L350.1,384.3 L349.3,385.0 L348.7,383.1 L348.8,381.8 M349.3,388.0 L352.2,388.7 L350.9,388.6 L349.3,388.6 L349.3,388.0 M352.5,386.0 L354.1,384.8 L355.8,385.5 L356.2,387.5 L357.2,388.3 L359.8,386.1 L363.0,387.5 L366.6,389.0 L367.9,390.4 L368.2,391.0 L369.7,391.7 L369.1,393.5 L370.7,395.3 L372.2,397.2 L369.2,396.7 L367.8,394.1 L365.8,393.7 L364.9,395.6 L362.5,395.5 L360.5,394.2 L360.0,394.5 L359.4,391.0 L356.8,389.7 L355.0,389.2 L353.8,387.7 L355.1,387.4 L352.7,386.1 L352.5,386.0 M370.7,391.0 L372.3,391.0 L373.9,389.4 L374.7,389.6 L373.8,391.0 L371.7,392.0 L370.7,391.0 M331.7,411.3 L332.4,411.0 L335.0,409.7 L337.8,408.7 L340.5,407.6 L341.7,405.4 L343.1,404.5 L344.4,402.9 L346.2,401.5 L347.7,401.5 L349.1,402.4 L349.6,402.6 L350.7,400.2 L351.6,399.3 L353.3,398.4 L354.8,398.9 L356.9,399.0 L357.6,399.4 L356.6,400.6 L355.8,402.3 L357.2,403.9 L359.3,405.6 L360.8,405.6 L362.2,402.7 L362.5,400.2 L363.3,397.8 L363.9,397.4 L364.6,399.6 L364.6,401.7 L366.0,402.7 L365.8,404.5 L366.0,407.6 L368.4,409.3 L369.5,411.9 L371.0,415.3 L370.8,417.4 L370.5,419.5 L368.7,422.3 L367.4,424.3 L365.1,426.0 L363.2,428.2 L361.8,430.3 L359.5,430.7 L357.3,432.2 L356.3,431.1 L354.7,431.8 L353.0,431.3 L352.0,430.0 L352.6,428.3 L351.4,427.9 L352.3,426.8 L352.0,426.2 L351.2,427.4 L350.3,427.6 L351.7,426.0 L352.7,424.5 L349.7,426.9 L349.0,426.8 L349.0,424.5 L346.9,422.9 L343.8,423.3 L341.0,423.9 L338.7,424.7 L335.9,425.7 L332.4,426.9 L330.4,427.2 L329.3,426.3 L330.1,425.4 L331.0,423.5 L331.1,420.5 L331.3,416.8 L330.7,415.9 L331.6,413.1 L331.7,411.3 M354.4,434.2 L356.0,434.6 L357.9,434.4 L356.8,436.0 L355.1,437.3 L353.5,437.7 L353.9,436.0 L354.4,434.2 M386.4,426.5 L387.3,427.6 L387.3,430.3 L389.7,430.5 L387.8,432.3 L386.6,432.7 L384.2,434.9 L382.8,434.9 L384.3,433.7 L384.0,432.4 L385.6,430.9 L386.5,429.0 L386.4,426.5 M381.6,433.9 L382.1,435.4 L379.2,437.5 L376.7,438.8 L374.7,440.4 L372.5,441.3 L370.7,440.6 L371.9,439.5 L374.3,438.2 L378.0,436.5 L380.7,434.5 L381.6,433.9 M266.5,399.0 L267.5,403.3 L266.7,405.1 L265.0,409.4 L264.2,412.1 L263.3,414.7 L261.5,415.6 L260.0,414.6 L259.5,411.3 L260.8,408.8 L260.6,405.7 L263.1,403.7 L264.8,402.1 L266.5,399.0 M298.7,376.3 L298.8,374.3 L298.9,372.3 L300.2,373.9 L300.7,375.7 L300.2,376.7 L299.1,376.9 L298.7,376.3 M227.2,337.9 L230.3,337.4 L229.9,339.3 L227.2,337.9 M223.2,336.5 L224.4,336.4 L224.5,334.2 L222.9,334.2 L223.2,336.5 M223.3,333.6 L224.1,333.6 L224.1,331.7 L223.3,332.5 L223.3,333.6 M238.3,341.0 L241.1,341.2 L239.3,341.5 L238.3,341.0 M247.0,341.7 L248.7,341.4 L249.1,340.7 L247.7,341.0 L247.0,341.7 M384.1,409.1 L386.5,411.6 L386.1,411.5 L384.1,409.1 M398.6,405.7 L399.9,406.1 L399.3,406.7 L398.6,405.7 M54.4,359.4 L55.2,360.2 L54.0,361.0 L54.4,359.4" fill="none" stroke="#7a7a7a" stroke-width="1.45" stroke-linejoin="round" stroke-linecap="round"/><path d="M298.2,337.5 L300.8,336.2 L304.7,336.2 L308.6,337.5 L312.5,338.8 L314.5,340.8 L313.8,343.4 L309.9,346.0 L306.0,346.0 L302.1,344.0 L298.9,341.4Z" fill="none" stroke="#ffffff" stroke-width="1.3" stroke-linejoin="round"/><path d="M294.3,333.6 L296.9,332.3 L302.1,333.0 L307.3,334.3 L312.5,335.6 L317.7,336.2 L321.6,337.5 L322.9,340.1 L319.0,344.0 L315.1,347.3 L309.9,348.6 L304.7,348.0 L299.5,345.3 L295.6,341.4 L293.7,337.5Z" fill="none" stroke="#6a7a9a" stroke-width="1.3" stroke-linejoin="round"/><path d="M297.5,320.0 L296.9,323.2 L294.3,325.8 L290.4,329.1 L288.5,331.0 L289.1,334.9 L291.7,340.8 L294.3,344.0 L298.2,346.6 L303.4,349.2 L308.6,351.5 L313.8,352.5 L317.7,351.8 L320.3,349.2 L324.2,346.0 L329.4,344.0 L333.3,342.7 L334.6,341.4 L333.3,338.8 L331.4,334.9 L329.4,331.0 L328.1,328.4 L330.1,325.2 L329.4,323.2 L329.0,320.0 M303.2,320.0 L303.4,323.2 L304.1,327.1 L306.0,331.0 L309.3,332.3 L311.9,330.4 L311.2,327.1 L308.0,324.5 L306.0,323.2 L305.5,320.0 M315.1,351.8 L313.8,355.1 L314.1,358.3 L315.8,360.3 L317.1,358.3 L317.5,355.1 L316.4,352.5Z M65.2,413.0 L67.8,419.8 M42.6,332.6 L45.6,331.0" fill="none" stroke="#000" stroke-width="1.8" stroke-linejoin="round" stroke-linecap="round"/></g><path d="M51.1,323.3 L215.1,323.3 L379,323.3 L379,323.3 L380.2,324.5 L381.3,325.6 L382.3,326.8 L383.4,328 L384.4,329.2 L385.4,330.4 L386.4,331.7 L387.3,332.9 L388.3,334.1 L389.2,335.3 L390.1,336.5 L390.9,337.7 L391.7,339 L392.4,340.2 L393.2,341.4 L393.9,342.6 L394.6,343.9 L395.2,345.1 L395.8,346.3 L396.4,347.5 L397,348.8 L397.5,350 L398,351.2 L398.5,352.4 L398.9,353.7 L399.3,354.9 L399.7,356.1 L400,357.3 L400.3,358.6 L400.6,359.8 L401,361 L401.3,362.2 L401.6,363.5 L401.8,364.7 L402.1,365.9 L402.4,367.1 L402.6,368.4 L402.8,369.6 L403,370.8 L403.1,372 L403.3,373.3 L403.4,374.5 L403.5,375.7 L403.6,376.9 L403.7,378.2 L403.8,379.4 L403.9,380.6 L403.9,381.8 L404,383.1 L404,384.3 L404,385.5 L403.9,386.8 L403.9,388 L403.8,389.2 L403.7,390.4 L403.6,391.7 L403.5,392.9 L403.4,394.1 L403.3,395.3 L403.1,396.6 L403,397.8 L402.8,399 L402.6,400.2 L402.4,401.5 L402.1,402.7 L401.8,403.9 L401.6,405.1 L401.3,406.4 L401,407.6 L400.6,408.8 L400.3,410 L400,411.3 L399.7,412.5 L399.3,413.7 L398.9,414.9 L398.5,416.2 L398,417.4 L397.5,418.6 L397,419.8 L396.4,421.1 L395.8,422.3 L395.2,423.5 L394.6,424.7 L393.9,426 L393.2,427.2 L392.4,428.4 L391.7,429.6 L390.9,430.9 L390.1,432.1 L389.2,433.3 L388.3,434.5 L387.3,435.7 L386.4,436.9 L385.4,438.2 L384.4,439.4 L383.4,440.6 L382.3,441.8 L381.3,443 L380.2,444.1 L379,445.3 L379,445.3 L215.1,445.3 L51.1,445.3 L51.1,445.3 L49.9,444.1 L48.8,443 L47.8,441.8 L46.7,440.6 L45.7,439.4 L44.7,438.2 L43.7,436.9 L42.8,435.7 L41.8,434.5 L40.9,433.3 L40,432.1 L39.2,430.9 L38.4,429.6 L37.7,428.4 L36.9,427.2 L36.2,426 L35.5,424.7 L34.9,423.5 L34.3,422.3 L33.7,421.1 L33.1,419.8 L32.6,418.6 L32.1,417.4 L31.6,416.2 L31.2,414.9 L30.8,413.7 L30.4,412.5 L30.1,411.3 L29.8,410 L29.5,408.8 L29.1,407.6 L28.8,406.4 L28.5,405.1 L28.3,403.9 L28,402.7 L27.7,401.5 L27.5,400.2 L27.3,399 L27.1,397.8 L27,396.6 L26.8,395.3 L26.7,394.1 L26.6,392.9 L26.5,391.7 L26.4,390.4 L26.3,389.2 L26.2,388 L26.2,386.8 L26.1,385.5 L26.1,384.3 L26.1,383.1 L26.2,381.8 L26.2,380.6 L26.3,379.4 L26.4,378.2 L26.5,376.9 L26.6,375.7 L26.7,374.5 L26.8,373.3 L27,372 L27.1,370.8 L27.3,369.6 L27.5,368.4 L27.7,367.1 L28,365.9 L28.3,364.7 L28.5,363.5 L28.8,362.2 L29.1,361 L29.5,359.8 L29.8,358.6 L30.1,357.3 L30.4,356.1 L30.8,354.9 L31.2,353.7 L31.6,352.4 L32.1,351.2 L32.6,350 L33.1,348.8 L33.7,347.5 L34.3,346.3 L34.9,345.1 L35.5,343.9 L36.2,342.6 L36.9,341.4 L37.7,340.2 L38.4,339 L39.2,337.7 L40,336.5 L40.9,335.3 L41.8,334.1 L42.8,332.9 L43.7,331.7 L44.7,330.4 L45.7,329.2 L46.7,328 L47.8,326.8 L48.8,325.6 L49.9,324.5 L51.1,323.3Z" fill="none" stroke="#4a4a4a" stroke-width="1.1"/>
<rect x="46" y="320.8" width="16.8" height="13.2" fill="#fff"/>
<rect x="441.40" y="273.92" width="6.60" height="12.39" fill="#144e8a"/><rect x="441.40" y="261.58" width="6.60" height="12.39" fill="#3783bb"/><rect x="441.40" y="249.24" width="6.60" height="12.39" fill="#81bad8"/><rect x="441.40" y="236.90" width="6.60" height="12.39" fill="#cae1ee"/><rect x="441.40" y="224.56" width="6.60" height="12.39" fill="#f7f6f6"/><rect x="441.40" y="212.22" width="6.60" height="12.39" fill="#fcd5bf"/><rect x="441.40" y="199.88" width="6.60" height="12.39" fill="#ee9677"/><rect x="441.40" y="187.54" width="6.60" height="12.39" fill="#c94741"/><rect x="441.40" y="175.20" width="6.60" height="12.39" fill="#900d26"/><path d="M441.40,175.20 L444.70,170.30 L448.00,175.20 Z" fill="#67001f"/><path d="M441.40,286.26 L444.70,291.60 L448.00,286.26 Z" fill="#053061"/><path d="M441.40,175.20 L444.70,170.30 L448.00,175.20 L448.00,286.26 L444.70,291.60 L441.40,286.26 Z" fill="none" stroke="#333" stroke-width="0.7"/><line x1="448.00" y1="175.20" x2="450.50" y2="175.20" stroke="#000" stroke-width="0.7"/><line x1="448.00" y1="187.54" x2="450.50" y2="187.54" stroke="#000" stroke-width="0.7"/><line x1="448.00" y1="199.88" x2="450.50" y2="199.88" stroke="#000" stroke-width="0.7"/><line x1="448.00" y1="212.22" x2="450.50" y2="212.22" stroke="#000" stroke-width="0.7"/><line x1="448.00" y1="224.56" x2="450.50" y2="224.56" stroke="#000" stroke-width="0.7"/><line x1="448.00" y1="236.90" x2="450.50" y2="236.90" stroke="#000" stroke-width="0.7"/><line x1="448.00" y1="249.24" x2="450.50" y2="249.24" stroke="#000" stroke-width="0.7"/><line x1="448.00" y1="261.58" x2="450.50" y2="261.58" stroke="#000" stroke-width="0.7"/><line x1="448.00" y1="273.92" x2="450.50" y2="273.92" stroke="#000" stroke-width="0.7"/><line x1="448.00" y1="286.26" x2="450.50" y2="286.26" stroke="#000" stroke-width="0.7"/>
<g style="opacity:0.999"><text transform="translate(134.20,13.00) scale(0.9836,1)" font-size="11.2" fill="#000"><tspan font-style="italic">z</tspan><tspan font-size="7.8" dy="1.7">2</tspan><tspan dy="-1.7"> = 18 km, </tspan><tspan font-style="italic">z</tspan><tspan font-size="7.8" dy="1.7">1</tspan><tspan dy="-1.7"> = 16 km, JJA 2020</tspan></text><text transform="translate(134.00,166.00) scale(0.9848,1)" font-size="11.2" fill="#000"><tspan font-style="italic">z</tspan><tspan font-size="7.8" dy="1.7">2</tspan><tspan dy="-1.7"> = 14 km, </tspan><tspan font-style="italic">z</tspan><tspan font-size="7.8" dy="1.7">1</tspan><tspan dy="-1.7"> = 12 km, JJA 2020</tspan></text><text transform="translate(137.50,319.20) scale(0.9795,1)" font-size="11.2" fill="#000"><tspan font-style="italic">z</tspan><tspan font-size="7.8" dy="1.7">2</tspan><tspan dy="-1.7"> = 10 km, </tspan><tspan font-style="italic">z</tspan><tspan font-size="7.8" dy="1.7">1</tspan><tspan dy="-1.7"> = 8 km, JJA 2020</tspan></text><text transform="translate(16.23,31.10) scale(1.0873,1)" font-size="8.4" fill="#000">40°N</text><text transform="translate(4.45,55.80) scale(1.0971,1)" font-size="8.4" fill="#000">20°N</text><text transform="translate(13.42,79.80) scale(1.1034,1)" font-size="8.4" fill="#000">0°</text><text transform="translate(5.35,104.40) scale(1.1029,1)" font-size="8.4" fill="#000">20°S</text><text transform="translate(17.14,128.50) scale(1.0535,1)" font-size="8.4" fill="#000">40°S</text><text transform="translate(48.35,22.20) scale(1.0947,1)" font-size="8.6" fill="#000">(a)</text><text transform="translate(16.23,184.60) scale(1.0873,1)" font-size="8.4" fill="#000">40°N</text><text transform="translate(4.45,209.30) scale(1.0971,1)" font-size="8.4" fill="#000">20°N</text><text transform="translate(13.42,233.30) scale(1.1034,1)" font-size="8.4" fill="#000">0°</text><text transform="translate(5.35,257.90) scale(1.1029,1)" font-size="8.4" fill="#000">20°S</text><text transform="translate(17.14,282.00) scale(1.0535,1)" font-size="8.4" fill="#000">40°S</text><text transform="translate(48.17,175.90) scale(1.0526,1)" font-size="8.6" fill="#000">(b)</text><text transform="translate(16.23,337.90) scale(1.0873,1)" font-size="8.4" fill="#000">40°N</text><text transform="translate(4.45,362.60) scale(1.0971,1)" font-size="8.4" fill="#000">20°N</text><text transform="translate(13.42,386.60) scale(1.1034,1)" font-size="8.4" fill="#000">0°</text><text transform="translate(5.35,411.20) scale(1.1029,1)" font-size="8.4" fill="#000">20°S</text><text transform="translate(17.14,435.30) scale(1.0535,1)" font-size="8.4" fill="#000">40°S</text><text transform="translate(48.59,329.00) scale(1.0222,1)" font-size="8.6" fill="#000">(c)</text><text transform="translate(121.26,454.80) scale(1.0800,1)" font-size="8.4" fill="#000">90°W</text><text transform="translate(210.51,454.80) scale(1.1586,1)" font-size="8.4" fill="#000">0°</text><text transform="translate(287.46,454.80) scale(1.0743,1)" font-size="8.4" fill="#000">90°E</text><text transform="translate(452.33,178.50) scale(1.0963,1)" font-size="8.4" fill="#000">0.009</text><text transform="translate(452.33,190.84) scale(1.0963,1)" font-size="8.4" fill="#000">0.007</text><text transform="translate(452.33,203.18) scale(1.0829,1)" font-size="8.4" fill="#000">0.005</text><text transform="translate(452.33,215.52) scale(1.0829,1)" font-size="8.4" fill="#000">0.003</text><text transform="translate(452.33,227.86) scale(1.0963,1)" font-size="8.4" fill="#000">0.001</text><text transform="translate(452.64,240.20) scale(1.1200,1)" font-size="8.4" fill="#000">−0.001</text><text transform="translate(452.64,252.54) scale(1.1200,1)" font-size="8.4" fill="#000">−0.003</text><text transform="translate(452.64,264.88) scale(1.1200,1)" font-size="8.4" fill="#000">−0.005</text><text transform="translate(452.64,277.22) scale(1.1200,1)" font-size="8.4" fill="#000">−0.007</text><text transform="translate(452.64,289.56) scale(1.1200,1)" font-size="8.4" fill="#000">−0.009</text><text transform="translate(492.60,267.20) rotate(-90) scale(1.0914,1)" font-size="8.6" fill="#000">Aeolus <tspan font-style="italic">S</tspan><tspan font-size="6" dy="1.6" font-style="italic">allsky</tspan><tspan dy="-1.6"> [</tspan><tspan font-style="italic">s</tspan><tspan font-size="6" dy="-3.3">−1</tspan><tspan dy="3.3">]</tspan></text></g>
</svg></body></html>
